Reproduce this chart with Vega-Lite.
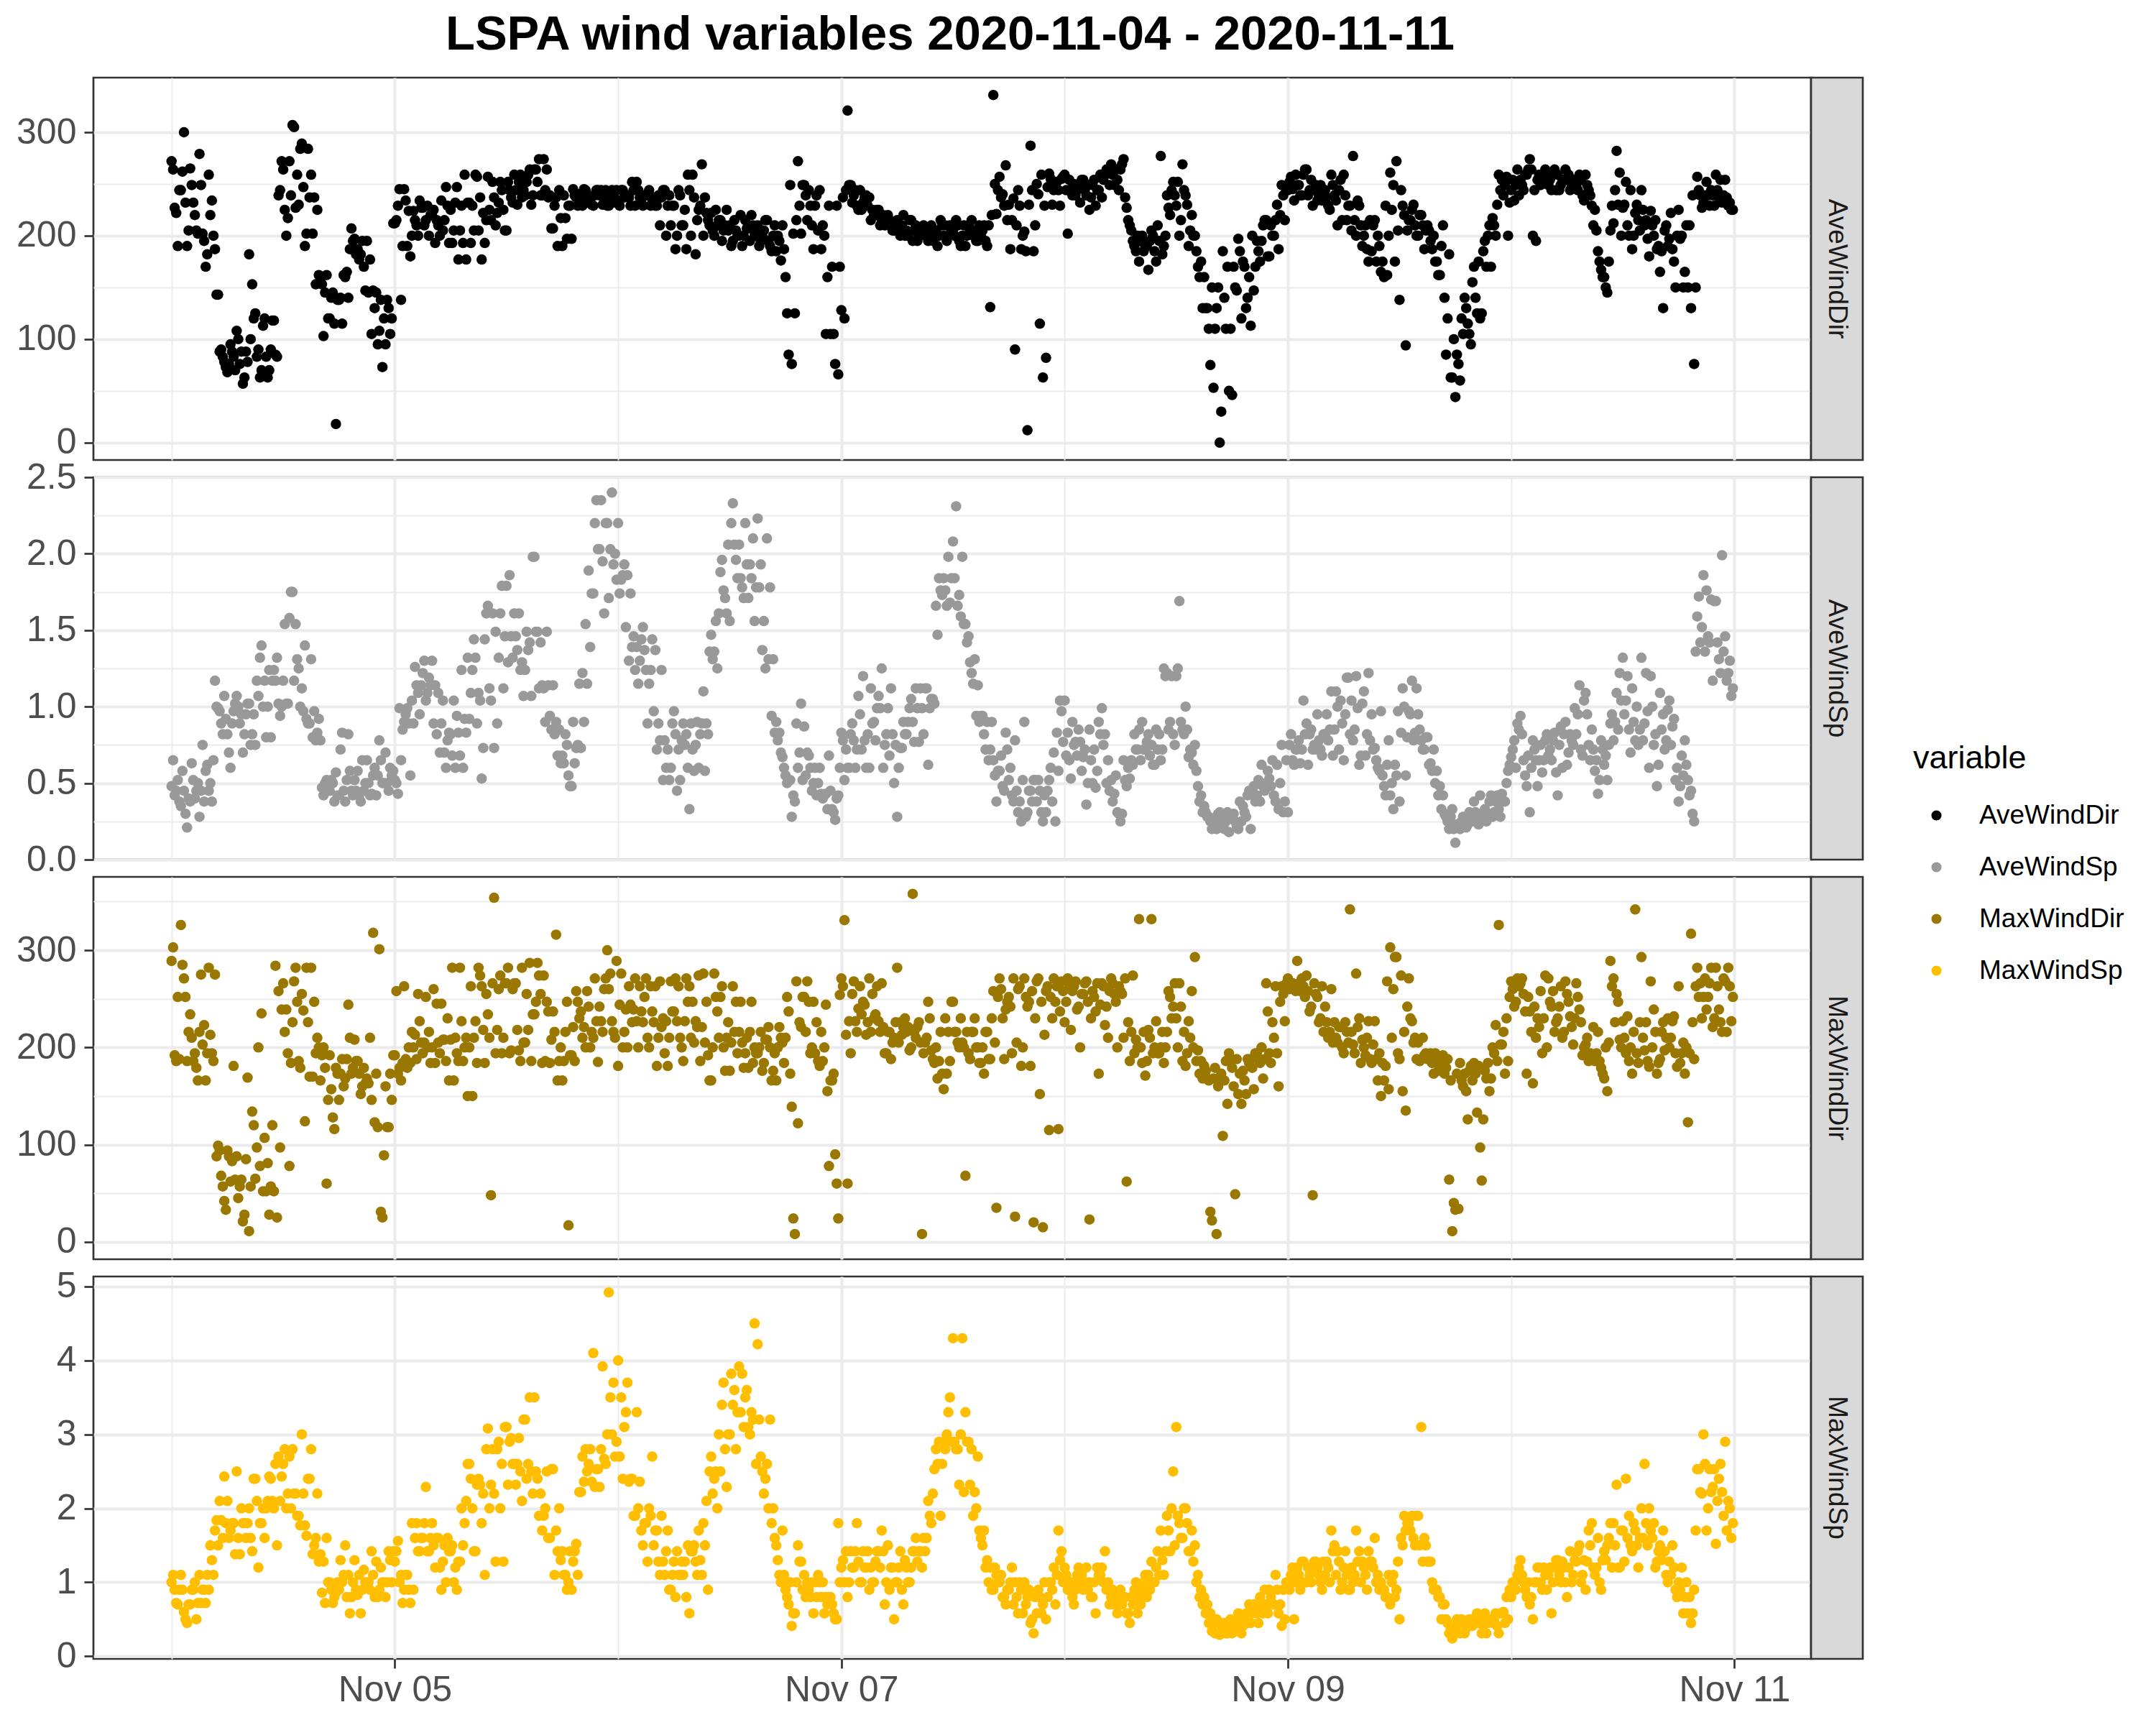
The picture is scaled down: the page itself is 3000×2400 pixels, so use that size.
{
  "$schema": "https://vega.github.io/schema/vega-lite/v6.json",
  "background": "white",
  "padding": {"left": 21, "top": 15, "right": 0, "bottom": 0},
  "title": {"text": "LSPA wind variables 2020-11-04 - 2020-11-11", "font": "Liberation Sans", "fontSize": 67, "fontWeight": "bold", "color": "black", "anchor": "start", "frame": "group", "dx": 490, "offset": 23.5},
  "data": {"values": [
{"t":"2020-11-04T00:00","awd":272,"aws":0.48,"mwd":289,"mws":1.0},
{"t":"2020-11-04T00:20","awd":227,"aws":0.42,"mwd":192,"mws":0.9},
{"t":"2020-11-04T00:40","awd":190,"aws":0.52,"mwd":252,"mws":0.7},
{"t":"2020-11-04T01:00","awd":244,"aws":0.35,"mwd":326,"mws":1.1},
{"t":"2020-11-04T01:20","awd":300,"aws":0.45,"mwd":271,"mws":0.6},
{"t":"2020-11-04T01:40","awd":190,"aws":0.21,"mwd":186,"mws":0.45},
{"t":"2020-11-04T02:00","awd":265,"aws":0.38,"mwd":234,"mws":0.7},
{"t":"2020-11-04T02:20","awd":232,"aws":0.52,"mwd":186,"mws":0.9},
{"t":"2020-11-04T02:40","awd":205,"aws":0.45,"mwd":179,"mws":0.5},
{"t":"2020-11-04T03:00","awd":279,"aws":0.28,"mwd":216,"mws":1.1},
{"t":"2020-11-04T03:20","awd":202,"aws":0.75,"mwd":203,"mws":0.9},
{"t":"2020-11-04T03:40","awd":170,"aws":0.58,"mwd":166,"mws":0.72},
{"t":"2020-11-04T04:00","awd":259,"aws":0.45,"mwd":282,"mws":0.9},
{"t":"2020-11-04T04:20","awd":234,"aws":0.38,"mwd":194,"mws":1.3},
{"t":"2020-11-04T04:40","awd":187,"aws":1.17,"mwd":275,"mws":1.7},
{"t":"2020-11-04T05:00","awd":143,"aws":0.99,"mwd":99,"mws":1.5},
{"t":"2020-11-04T05:20","awd":90,"aws":0.89,"mwd":68,"mws":1.84},
{"t":"2020-11-04T05:40","awd":78,"aws":1.07,"mwd":42,"mws":2.43},
{"t":"2020-11-04T06:00","awd":68,"aws":0.82,"mwd":94,"mws":2.1},
{"t":"2020-11-04T06:20","awd":95,"aws":0.6,"mwd":62,"mws":1.7},
{"t":"2020-11-04T06:40","awd":83,"aws":0.97,"mwd":181,"mws":1.8},
{"t":"2020-11-04T07:00","awd":108,"aws":1.07,"mwd":88,"mws":2.5},
{"t":"2020-11-04T07:20","awd":76,"aws":0.89,"mwd":57,"mws":1.38},
{"t":"2020-11-04T07:40","awd":57,"aws":0.7,"mwd":21,"mws":1.8},
{"t":"2020-11-04T08:00","awd":88,"aws":0.95,"mwd":85,"mws":1.6},
{"t":"2020-11-04T08:20","awd":182,"aws":1.02,"mwd":11,"mws":2.0},
{"t":"2020-11-04T08:40","awd":153,"aws":0.82,"mwd":134,"mws":1.42},
{"t":"2020-11-04T09:00","awd":125,"aws":0.75,"mwd":65,"mws":2.4},
{"t":"2020-11-04T09:20","awd":90,"aws":1.07,"mwd":200,"mws":1.2},
{"t":"2020-11-04T09:40","awd":70,"aws":1.4,"mwd":235,"mws":1.8},
{"t":"2020-11-04T10:00","awd":120,"aws":1.17,"mwd":107,"mws":1.6},
{"t":"2020-11-04T10:20","awd":63,"aws":1.0,"mwd":81,"mws":2.1},
{"t":"2020-11-04T10:40","awd":90,"aws":0.8,"mwd":57,"mws":2.4},
{"t":"2020-11-04T11:00","awd":118,"aws":1.24,"mwd":52,"mws":2.0},
{"t":"2020-11-04T11:20","awd":83,"aws":1.32,"mwd":25,"mws":1.5},
{"t":"2020-11-04T11:40","awd":244,"aws":0.94,"mwd":97,"mws":2.1},
{"t":"2020-11-04T12:00","awd":264,"aws":1.17,"mwd":266,"mws":2.6},
{"t":"2020-11-04T12:20","awd":200,"aws":1.02,"mwd":239,"mws":2.0},
{"t":"2020-11-04T12:40","awd":272,"aws":1.58,"mwd":78,"mws":2.7},
{"t":"2020-11-04T13:00","awd":307,"aws":1.75,"mwd":226,"mws":2.8},
{"t":"2020-11-04T13:20","awd":227,"aws":1.54,"mwd":282,"mws":2.2},
{"t":"2020-11-04T13:40","awd":230,"aws":1.25,"mwd":186,"mws":1.9},
{"t":"2020-11-04T14:00","awd":289,"aws":1.12,"mwd":255,"mws":3.0},
{"t":"2020-11-04T14:20","awd":190,"aws":1.4,"mwd":124,"mws":1.77},
{"t":"2020-11-04T14:40","awd":284,"aws":0.89,"mwd":226,"mws":2.4},
{"t":"2020-11-04T15:00","awd":259,"aws":1.31,"mwd":282,"mws":2.8},
{"t":"2020-11-04T15:20","awd":237,"aws":0.97,"mwd":247,"mws":1.5},
{"t":"2020-11-04T15:40","awd":225,"aws":0.83,"mwd":210,"mws":2.2},
{"t":"2020-11-04T16:00","awd":157,"aws":0.78,"mwd":166,"mws":1.38},
{"t":"2020-11-04T16:20","awd":103,"aws":0.42,"mwd":200,"mws":1.28},
{"t":"2020-11-04T16:40","awd":162,"aws":0.52,"mwd":60,"mws":1.6},
{"t":"2020-11-04T17:00","awd":120,"aws":0.45,"mwd":192,"mws":1.0},
{"t":"2020-11-04T17:20","awd":145,"aws":0.5,"mwd":128,"mws":0.72},
{"t":"2020-11-04T17:40","awd":18,"aws":0.57,"mwd":179,"mws":0.86},
{"t":"2020-11-04T18:00","awd":138,"aws":0.42,"mwd":146,"mws":0.9},
{"t":"2020-11-04T18:20","awd":115,"aws":0.83,"mwd":188,"mws":1.0},
{"t":"2020-11-04T18:40","awd":160,"aws":0.38,"mwd":168,"mws":1.5},
{"t":"2020-11-04T19:00","awd":140,"aws":0.82,"mwd":244,"mws":1.1},
{"t":"2020-11-04T19:20","awd":207,"aws":0.45,"mwd":173,"mws":0.8},
{"t":"2020-11-04T19:40","awd":197,"aws":0.52,"mwd":208,"mws":1.3},
{"t":"2020-11-04T20:00","awd":187,"aws":0.58,"mwd":186,"mws":0.83},
{"t":"2020-11-04T20:20","awd":182,"aws":0.38,"mwd":152,"mws":0.58},
{"t":"2020-11-04T20:40","awd":170,"aws":0.45,"mwd":179,"mws":1.17},
{"t":"2020-11-04T21:00","awd":195,"aws":0.65,"mwd":168,"mws":1.0},
{"t":"2020-11-04T21:20","awd":177,"aws":0.42,"mwd":210,"mws":0.9},
{"t":"2020-11-04T21:40","awd":147,"aws":0.55,"mwd":318,"mws":1.1},
{"t":"2020-11-04T22:00","awd":145,"aws":0.42,"mwd":173,"mws":1.28},
{"t":"2020-11-04T22:20","awd":108,"aws":0.78,"mwd":301,"mws":0.9},
{"t":"2020-11-04T22:40","awd":73,"aws":0.5,"mwd":25,"mws":1.0},
{"t":"2020-11-04T23:00","awd":95,"aws":0.7,"mwd":160,"mws":0.8},
{"t":"2020-11-04T23:20","awd":130,"aws":0.45,"mwd":118,"mws":1.42},
{"t":"2020-11-04T23:40","awd":120,"aws":0.55,"mwd":146,"mws":1.0},
{"t":"2020-11-05T00:00","awd":212,"aws":0.52,"mwd":192,"mws":1.28},
{"t":"2020-11-05T00:20","awd":229,"aws":0.43,"mwd":173,"mws":1.56},
{"t":"2020-11-05T00:40","awd":138,"aws":0.65,"mwd":166,"mws":1.1},
{"t":"2020-11-05T01:00","awd":245,"aws":0.9,"mwd":263,"mws":0.9},
{"t":"2020-11-05T01:20","awd":190,"aws":0.99,"mwd":179,"mws":1.1},
{"t":"2020-11-05T01:40","awd":180,"aws":0.55,"mwd":184,"mws":0.72},
{"t":"2020-11-05T02:00","awd":224,"aws":0.89,"mwd":200,"mws":0.9},
{"t":"2020-11-05T02:20","awd":210,"aws":1.14,"mwd":188,"mws":1.8},
{"t":"2020-11-05T02:40","awd":234,"aws":0.95,"mwd":227,"mws":1.42},
{"t":"2020-11-05T03:00","awd":227,"aws":1.22,"mwd":194,"mws":1.6},
{"t":"2020-11-05T03:20","awd":215,"aws":1.04,"mwd":252,"mws":2.29},
{"t":"2020-11-05T03:40","awd":200,"aws":1.19,"mwd":216,"mws":1.42},
{"t":"2020-11-05T04:00","awd":220,"aws":1.3,"mwd":200,"mws":1.8},
{"t":"2020-11-05T04:20","awd":193,"aws":1.14,"mwd":184,"mws":1.2},
{"t":"2020-11-05T04:40","awd":210,"aws":1.09,"mwd":205,"mws":1.6},
{"t":"2020-11-05T05:00","awd":234,"aws":0.89,"mwd":245,"mws":0.9},
{"t":"2020-11-05T05:20","awd":215,"aws":0.7,"mwd":208,"mws":1.5},
{"t":"2020-11-05T05:40","awd":229,"aws":0.78,"mwd":230,"mws":1.6},
{"t":"2020-11-05T06:00","awd":225,"aws":0.82,"mwd":208,"mws":1.42},
{"t":"2020-11-05T06:20","awd":205,"aws":1.04,"mwd":166,"mws":1.0},
{"t":"2020-11-05T06:40","awd":247,"aws":0.94,"mwd":194,"mws":0.9},
{"t":"2020-11-05T07:00","awd":205,"aws":0.68,"mwd":282,"mws":1.28},
{"t":"2020-11-05T07:20","awd":193,"aws":0.6,"mwd":186,"mws":1.5},
{"t":"2020-11-05T07:40","awd":177,"aws":0.83,"mwd":210,"mws":2.1},
{"t":"2020-11-05T08:00","awd":232,"aws":0.92,"mwd":200,"mws":2.6},
{"t":"2020-11-05T08:20","awd":229,"aws":1.24,"mwd":150,"mws":2.0},
{"t":"2020-11-05T08:40","awd":259,"aws":1.32,"mwd":227,"mws":1.42},
{"t":"2020-11-05T09:00","awd":205,"aws":1.09,"mwd":282,"mws":2.4},
{"t":"2020-11-05T09:20","awd":177,"aws":0.53,"mwd":263,"mws":1.8},
{"t":"2020-11-05T09:40","awd":193,"aws":1.44,"mwd":184,"mws":1.1},
{"t":"2020-11-05T10:00","awd":257,"aws":1.66,"mwd":234,"mws":3.08},
{"t":"2020-11-05T10:20","awd":215,"aws":1.04,"mwd":48,"mws":2.32},
{"t":"2020-11-05T10:40","awd":237,"aws":0.73,"mwd":354,"mws":2.2},
{"t":"2020-11-05T11:00","awd":222,"aws":0.89,"mwd":218,"mws":2.8},
{"t":"2020-11-05T11:20","awd":252,"aws":1.61,"mwd":274,"mws":2.0},
{"t":"2020-11-05T11:40","awd":225,"aws":1.12,"mwd":210,"mws":1.28},
{"t":"2020-11-05T12:00","awd":205,"aws":1.79,"mwd":266,"mws":3.1},
{"t":"2020-11-05T12:20","awd":244,"aws":1.86,"mwd":194,"mws":2.9},
{"t":"2020-11-05T12:40","awd":232,"aws":1.32,"mwd":260,"mws":2.6},
{"t":"2020-11-05T13:00","awd":244,"aws":1.46,"mwd":266,"mws":2.32},
{"t":"2020-11-05T13:20","awd":252,"aws":1.61,"mwd":197,"mws":2.95},
{"t":"2020-11-05T13:40","awd":237,"aws":1.29,"mwd":282,"mws":2.1},
{"t":"2020-11-05T14:00","awd":239,"aws":1.24,"mwd":205,"mws":3.2},
{"t":"2020-11-05T14:20","awd":259,"aws":1.37,"mwd":218,"mws":2.6},
{"t":"2020-11-05T14:40","awd":230,"aws":1.07,"mwd":186,"mws":2.5},
{"t":"2020-11-05T15:00","awd":264,"aws":1.98,"mwd":234,"mws":3.5},
{"t":"2020-11-05T15:20","awd":252,"aws":1.49,"mwd":287,"mws":2.4},
{"t":"2020-11-05T15:40","awd":239,"aws":1.42,"mwd":255,"mws":2.2},
{"t":"2020-11-05T16:00","awd":274,"aws":1.12,"mwd":274,"mws":1.9},
{"t":"2020-11-05T16:20","awd":264,"aws":1.49,"mwd":247,"mws":2.5},
{"t":"2020-11-05T16:40","awd":239,"aws":0.94,"mwd":184,"mws":1.6},
{"t":"2020-11-05T17:00","awd":207,"aws":1.14,"mwd":237,"mws":2.53},
{"t":"2020-11-05T17:20","awd":237,"aws":0.9,"mwd":316,"mws":1.7},
{"t":"2020-11-05T17:40","awd":244,"aws":0.85,"mwd":186,"mws":2.0},
{"t":"2020-11-05T18:00","awd":190,"aws":0.68,"mwd":166,"mws":1.42},
{"t":"2020-11-05T18:20","awd":217,"aws":0.82,"mwd":216,"mws":1.1},
{"t":"2020-11-05T18:40","awd":229,"aws":0.55,"mwd":17,"mws":1.0},
{"t":"2020-11-05T19:00","awd":197,"aws":0.48,"mwd":192,"mws":0.9},
{"t":"2020-11-05T19:20","awd":239,"aws":0.63,"mwd":186,"mws":1.42},
{"t":"2020-11-05T19:40","awd":229,"aws":0.75,"mwd":247,"mws":1.1},
{"t":"2020-11-05T20:00","awd":237,"aws":0.73,"mwd":237,"mws":2.22},
{"t":"2020-11-05T20:20","awd":245,"aws":0.9,"mwd":221,"mws":2.36},
{"t":"2020-11-05T20:40","awd":240,"aws":1.15,"mwd":258,"mws":2.5},
{"t":"2020-11-05T21:00","awd":232,"aws":1.39,"mwd":200,"mws":2.8},
{"t":"2020-11-05T21:20","awd":229,"aws":1.74,"mwd":210,"mws":4.1},
{"t":"2020-11-05T21:40","awd":244,"aws":2.35,"mwd":227,"mws":2.53},
{"t":"2020-11-05T22:00","awd":239,"aws":2.03,"mwd":242,"mws":2.29},
{"t":"2020-11-05T22:20","awd":230,"aws":1.95,"mwd":216,"mws":3.92},
{"t":"2020-11-05T22:40","awd":244,"aws":2.2,"mwd":271,"mws":2.6},
{"t":"2020-11-05T23:00","awd":229,"aws":1.71,"mwd":260,"mws":4.92},
{"t":"2020-11-05T23:20","awd":244,"aws":2.4,"mwd":227,"mws":3.0},
{"t":"2020-11-05T23:40","awd":236,"aws":2.0,"mwd":210,"mws":2.7},
{"t":"2020-11-06T00:00","awd":232,"aws":2.2,"mwd":181,"mws":4.0},
{"t":"2020-11-06T00:20","awd":244,"aws":1.83,"mwd":276,"mws":3.5},
{"t":"2020-11-06T00:40","awd":237,"aws":1.93,"mwd":216,"mws":3.1},
{"t":"2020-11-06T01:00","awd":239,"aws":1.86,"mwd":200,"mws":3.7},
{"t":"2020-11-06T01:20","awd":229,"aws":1.74,"mwd":244,"mws":2.4},
{"t":"2020-11-06T01:40","awd":244,"aws":1.46,"mwd":239,"mws":1.9},
{"t":"2020-11-06T02:00","awd":252,"aws":1.39,"mwd":227,"mws":3.3},
{"t":"2020-11-06T02:20","awd":237,"aws":1.3,"mwd":263,"mws":2.36},
{"t":"2020-11-06T02:40","awd":229,"aws":1.52,"mwd":226,"mws":1.5},
{"t":"2020-11-06T03:00","awd":239,"aws":1.24,"mwd":271,"mws":1.8},
{"t":"2020-11-06T03:20","awd":244,"aws":1.15,"mwd":200,"mws":2.0},
{"t":"2020-11-06T03:40","awd":232,"aws":1.44,"mwd":237,"mws":2.7},
{"t":"2020-11-06T04:00","awd":229,"aws":1.37,"mwd":263,"mws":1.7},
{"t":"2020-11-06T04:20","awd":239,"aws":0.89,"mwd":210,"mws":1.28},
{"t":"2020-11-06T04:40","awd":237,"aws":1.24,"mwd":221,"mws":1.9},
{"t":"2020-11-06T05:00","awd":244,"aws":0.78,"mwd":194,"mws":1.1},
{"t":"2020-11-06T05:20","awd":229,"aws":0.72,"mwd":181,"mws":1.7},
{"t":"2020-11-06T05:40","awd":210,"aws":0.6,"mwd":268,"mws":0.9},
{"t":"2020-11-06T06:00","awd":229,"aws":0.97,"mwd":237,"mws":1.28},
{"t":"2020-11-06T06:20","awd":200,"aws":0.45,"mwd":227,"mws":1.42},
{"t":"2020-11-06T06:40","awd":239,"aws":0.52,"mwd":210,"mws":1.1},
{"t":"2020-11-06T07:00","awd":210,"aws":0.89,"mwd":186,"mws":1.1},
{"t":"2020-11-06T07:20","awd":187,"aws":0.82,"mwd":271,"mws":0.8},
{"t":"2020-11-06T07:40","awd":244,"aws":0.33,"mwd":263,"mws":0.58},
{"t":"2020-11-06T08:00","awd":259,"aws":0.72,"mwd":247,"mws":1.42},
{"t":"2020-11-06T08:20","awd":182,"aws":0.75,"mwd":227,"mws":1.28},
{"t":"2020-11-06T08:40","awd":225,"aws":0.6,"mwd":274,"mws":1.7},
{"t":"2020-11-06T09:00","awd":269,"aws":0.89,"mwd":221,"mws":1.1},
{"t":"2020-11-06T09:20","awd":237,"aws":0.58,"mwd":205,"mws":1.5},
{"t":"2020-11-06T09:40","awd":215,"aws":0.82,"mwd":192,"mws":0.9},
{"t":"2020-11-06T10:00","awd":222,"aws":1.47,"mwd":166,"mws":2.7},
{"t":"2020-11-06T10:20","awd":200,"aws":1.36,"mwd":276,"mws":2.4},
{"t":"2020-11-06T10:40","awd":210,"aws":1.25,"mwd":237,"mws":2.0},
{"t":"2020-11-06T11:00","awd":215,"aws":1.88,"mwd":252,"mws":2.5},
{"t":"2020-11-06T11:20","awd":205,"aws":1.76,"mwd":200,"mws":3.7},
{"t":"2020-11-06T11:40","awd":225,"aws":1.61,"mwd":210,"mws":2.29},
{"t":"2020-11-06T12:00","awd":210,"aws":1.56,"mwd":176,"mws":3.0},
{"t":"2020-11-06T12:20","awd":195,"aws":2.33,"mwd":263,"mws":3.4},
{"t":"2020-11-06T12:40","awd":205,"aws":1.96,"mwd":247,"mws":2.8},
{"t":"2020-11-06T13:00","awd":200,"aws":2.06,"mwd":216,"mws":3.92},
{"t":"2020-11-06T13:20","awd":190,"aws":1.78,"mwd":205,"mws":3.82},
{"t":"2020-11-06T13:40","awd":215,"aws":2.2,"mwd":194,"mws":3.5},
{"t":"2020-11-06T14:00","awd":207,"aws":1.71,"mwd":179,"mws":3.1},
{"t":"2020-11-06T14:20","awd":220,"aws":1.84,"mwd":247,"mws":3.3},
{"t":"2020-11-06T14:40","awd":200,"aws":1.56,"mwd":200,"mws":4.5},
{"t":"2020-11-06T15:00","awd":210,"aws":2.23,"mwd":194,"mws":4.22},
{"t":"2020-11-06T15:20","awd":195,"aws":1.93,"mwd":216,"mws":2.7},
{"t":"2020-11-06T15:40","awd":205,"aws":1.56,"mwd":184,"mws":2.2},
{"t":"2020-11-06T16:00","awd":215,"aws":2.1,"mwd":208,"mws":2.6},
{"t":"2020-11-06T16:20","awd":190,"aws":1.78,"mwd":200,"mws":3.2},
{"t":"2020-11-06T16:40","awd":200,"aws":1.31,"mwd":176,"mws":2.0},
{"t":"2020-11-06T17:00","awd":185,"aws":0.9,"mwd":166,"mws":1.5},
{"t":"2020-11-06T17:20","awd":195,"aws":0.83,"mwd":221,"mws":1.1},
{"t":"2020-11-06T17:40","awd":210,"aws":0.67,"mwd":205,"mws":1.7},
{"t":"2020-11-06T18:00","awd":160,"aws":0.55,"mwd":210,"mws":0.9},
{"t":"2020-11-06T18:20","awd":85,"aws":0.52,"mwd":237,"mws":0.7},
{"t":"2020-11-06T18:40","awd":76,"aws":0.28,"mwd":139,"mws":0.41},
{"t":"2020-11-06T19:00","awd":125,"aws":0.38,"mwd":8,"mws":0.58},
{"t":"2020-11-06T19:20","awd":272,"aws":0.6,"mwd":122,"mws":1.5},
{"t":"2020-11-06T19:40","awd":202,"aws":1.02,"mwd":221,"mws":1.28},
{"t":"2020-11-06T20:00","awd":249,"aws":0.87,"mwd":252,"mws":1.1},
{"t":"2020-11-06T20:20","awd":215,"aws":0.7,"mwd":268,"mws":1.0},
{"t":"2020-11-06T20:40","awd":229,"aws":0.6,"mwd":194,"mws":0.8},
{"t":"2020-11-06T21:00","awd":187,"aws":0.5,"mwd":247,"mws":0.58},
{"t":"2020-11-06T21:20","awd":239,"aws":0.42,"mwd":226,"mws":0.8},
{"t":"2020-11-06T21:40","awd":244,"aws":0.6,"mwd":181,"mws":1.0},
{"t":"2020-11-06T22:00","awd":210,"aws":0.4,"mwd":186,"mws":1.0},
{"t":"2020-11-06T22:20","awd":105,"aws":0.43,"mwd":244,"mws":0.8},
{"t":"2020-11-06T22:40","awd":229,"aws":0.68,"mwd":78,"mws":0.8},
{"t":"2020-11-06T23:00","awd":170,"aws":0.33,"mwd":166,"mws":0.7},
{"t":"2020-11-06T23:20","awd":76,"aws":0.26,"mwd":90,"mws":0.5},
{"t":"2020-11-06T23:40","awd":66,"aws":0.42,"mwd":24,"mws":1.8},
{"t":"2020-11-07T00:00","awd":128,"aws":0.83,"mwd":271,"mws":1.2},
{"t":"2020-11-07T00:20","awd":120,"aws":0.52,"mwd":331,"mws":1.0},
{"t":"2020-11-07T00:40","awd":321,"aws":0.6,"mwd":60,"mws":0.8},
{"t":"2020-11-07T01:00","awd":249,"aws":0.82,"mwd":194,"mws":1.42},
{"t":"2020-11-07T01:20","awd":239,"aws":0.78,"mwd":268,"mws":1.2},
{"t":"2020-11-07T01:40","awd":229,"aws":0.72,"mwd":216,"mws":1.8},
{"t":"2020-11-07T02:00","awd":244,"aws":0.95,"mwd":263,"mws":1.0},
{"t":"2020-11-07T02:20","awd":232,"aws":1.2,"mwd":247,"mws":1.42},
{"t":"2020-11-07T02:40","awd":239,"aws":0.6,"mwd":213,"mws":1.2},
{"t":"2020-11-07T03:00","awd":237,"aws":0.6,"mwd":271,"mws":0.9},
{"t":"2020-11-07T03:20","awd":225,"aws":0.89,"mwd":255,"mws":1.0},
{"t":"2020-11-07T03:40","awd":220,"aws":0.78,"mwd":234,"mws":1.28},
{"t":"2020-11-07T04:00","awd":225,"aws":1.07,"mwd":227,"mws":1.42},
{"t":"2020-11-07T04:20","awd":215,"aws":1.25,"mwd":266,"mws":1.7},
{"t":"2020-11-07T04:40","awd":210,"aws":0.75,"mwd":194,"mws":0.7},
{"t":"2020-11-07T05:00","awd":220,"aws":0.99,"mwd":216,"mws":1.5},
{"t":"2020-11-07T05:20","awd":210,"aws":1.12,"mwd":188,"mws":1.2},
{"t":"2020-11-07T05:40","awd":205,"aws":0.5,"mwd":210,"mws":0.5},
{"t":"2020-11-07T06:00","awd":215,"aws":0.28,"mwd":282,"mws":1.0},
{"t":"2020-11-07T06:20","awd":200,"aws":0.73,"mwd":226,"mws":1.42},
{"t":"2020-11-07T06:40","awd":220,"aws":0.9,"mwd":221,"mws":0.7},
{"t":"2020-11-07T07:00","awd":205,"aws":0.82,"mwd":216,"mws":1.2},
{"t":"2020-11-07T07:20","awd":215,"aws":0.99,"mwd":197,"mws":1.0},
{"t":"2020-11-07T07:40","awd":195,"aws":0.9,"mwd":358,"mws":1.42},
{"t":"2020-11-07T08:00","awd":210,"aws":1.12,"mwd":210,"mws":1.6},
{"t":"2020-11-07T08:20","awd":200,"aws":0.77,"mwd":226,"mws":1.42},
{"t":"2020-11-07T08:40","awd":205,"aws":0.99,"mwd":8,"mws":1.2},
{"t":"2020-11-07T09:00","awd":200,"aws":1.12,"mwd":205,"mws":1.42},
{"t":"2020-11-07T09:20","awd":195,"aws":0.62,"mwd":247,"mws":2.1},
{"t":"2020-11-07T09:40","awd":210,"aws":1.05,"mwd":197,"mws":1.8},
{"t":"2020-11-07T10:00","awd":205,"aws":1.02,"mwd":184,"mws":2.53},
{"t":"2020-11-07T10:20","awd":190,"aws":1.47,"mwd":168,"mws":2.6},
{"t":"2020-11-07T10:40","awd":215,"aws":1.76,"mwd":216,"mws":1.9},
{"t":"2020-11-07T11:00","awd":200,"aws":1.84,"mwd":157,"mws":2.9},
{"t":"2020-11-07T11:20","awd":195,"aws":1.66,"mwd":173,"mws":3.0},
{"t":"2020-11-07T11:40","awd":210,"aws":1.68,"mwd":186,"mws":3.5},
{"t":"2020-11-07T12:00","awd":205,"aws":2.08,"mwd":247,"mws":4.3},
{"t":"2020-11-07T12:20","awd":215,"aws":2.31,"mwd":216,"mws":2.8},
{"t":"2020-11-07T12:40","awd":195,"aws":1.73,"mwd":200,"mws":2.32},
{"t":"2020-11-07T13:00","awd":200,"aws":1.98,"mwd":205,"mws":4.3},
{"t":"2020-11-07T13:20","awd":190,"aws":1.54,"mwd":68,"mws":3.3},
{"t":"2020-11-07T13:40","awd":210,"aws":1.46,"mwd":194,"mws":2.9},
{"t":"2020-11-07T14:00","awd":215,"aws":1.22,"mwd":216,"mws":2.8},
{"t":"2020-11-07T14:20","awd":205,"aws":1.31,"mwd":230,"mws":2.22},
{"t":"2020-11-07T14:40","awd":195,"aws":1.14,"mwd":200,"mws":2.7},
{"t":"2020-11-07T15:00","awd":200,"aws":0.94,"mwd":184,"mws":1.6},
{"t":"2020-11-07T15:20","awd":210,"aws":0.82,"mwd":173,"mws":1.7},
{"t":"2020-11-07T15:40","awd":190,"aws":0.9,"mwd":216,"mws":1.3},
{"t":"2020-11-07T16:00","awd":131,"aws":0.72,"mwd":188,"mws":1.2},
{"t":"2020-11-07T16:20","awd":336,"aws":0.65,"mwd":258,"mws":0.9},
{"t":"2020-11-07T16:40","awd":221,"aws":0.38,"mwd":35,"mws":1.1},
{"t":"2020-11-07T17:00","awd":257,"aws":0.58,"mwd":271,"mws":1.0},
{"t":"2020-11-07T17:20","awd":240,"aws":0.48,"mwd":230,"mws":0.8},
{"t":"2020-11-07T17:40","awd":268,"aws":0.83,"mwd":239,"mws":0.7},
{"t":"2020-11-07T18:00","awd":230,"aws":0.52,"mwd":252,"mws":0.9},
{"t":"2020-11-07T18:20","awd":215,"aws":0.42,"mwd":194,"mws":1.2},
{"t":"2020-11-07T18:40","awd":90,"aws":0.78,"mwd":26,"mws":1.0},
{"t":"2020-11-07T19:00","awd":244,"aws":0.31,"mwd":260,"mws":0.58},
{"t":"2020-11-07T19:20","awd":187,"aws":0.25,"mwd":181,"mws":0.9},
{"t":"2020-11-07T19:40","awd":204,"aws":0.9,"mwd":271,"mws":1.0},
{"t":"2020-11-07T20:00","awd":12,"aws":0.31,"mwd":242,"mws":0.8},
{"t":"2020-11-07T20:20","awd":287,"aws":0.45,"mwd":181,"mws":0.45},
{"t":"2020-11-07T20:40","awd":185,"aws":0.52,"mwd":20,"mws":0.31},
{"t":"2020-11-07T21:00","awd":250,"aws":0.38,"mwd":268,"mws":0.58},
{"t":"2020-11-07T21:20","awd":115,"aws":0.45,"mwd":152,"mws":0.8},
{"t":"2020-11-07T21:40","awd":63,"aws":0.25,"mwd":15,"mws":0.7},
{"t":"2020-11-07T22:00","awd":82,"aws":0.31,"mwd":258,"mws":0.5},
{"t":"2020-11-07T22:20","awd":260,"aws":0.52,"mwd":115,"mws":1.0},
{"t":"2020-11-07T22:40","awd":230,"aws":0.38,"mwd":230,"mws":0.9},
{"t":"2020-11-07T23:00","awd":249,"aws":0.25,"mwd":247,"mws":0.7},
{"t":"2020-11-07T23:20","awd":244,"aws":0.58,"mwd":116,"mws":1.7},
{"t":"2020-11-07T23:40","awd":255,"aws":0.97,"mwd":268,"mws":1.42},
{"t":"2020-11-08T00:00","awd":259,"aws":1.04,"mwd":226,"mws":1.2},
{"t":"2020-11-08T00:20","awd":202,"aws":0.83,"mwd":271,"mws":0.9},
{"t":"2020-11-08T00:40","awd":245,"aws":0.53,"mwd":218,"mws":1.0},
{"t":"2020-11-08T01:00","awd":250,"aws":0.75,"mwd":263,"mws":0.7},
{"t":"2020-11-08T01:20","awd":244,"aws":0.68,"mwd":239,"mws":1.1},
{"t":"2020-11-08T01:40","awd":232,"aws":0.77,"mwd":200,"mws":1.0},
{"t":"2020-11-08T02:00","awd":254,"aws":0.67,"mwd":255,"mws":0.9},
{"t":"2020-11-08T02:20","awd":239,"aws":0.36,"mwd":268,"mws":1.2},
{"t":"2020-11-08T02:40","awd":225,"aws":0.85,"mwd":23,"mws":1.0},
{"t":"2020-11-08T03:00","awd":249,"aws":0.5,"mwd":258,"mws":0.8},
{"t":"2020-11-08T03:20","awd":229,"aws":0.47,"mwd":237,"mws":0.58},
{"t":"2020-11-08T03:40","awd":244,"aws":0.9,"mwd":173,"mws":1.1},
{"t":"2020-11-08T04:00","awd":237,"aws":0.99,"mwd":266,"mws":1.2},
{"t":"2020-11-08T04:20","awd":259,"aws":0.82,"mwd":223,"mws":1.42},
{"t":"2020-11-08T04:40","awd":264,"aws":0.65,"mwd":210,"mws":1.0},
{"t":"2020-11-08T05:00","awd":269,"aws":0.52,"mwd":271,"mws":0.8},
{"t":"2020-11-08T05:20","awd":249,"aws":0.43,"mwd":255,"mws":0.7},
{"t":"2020-11-08T05:40","awd":254,"aws":0.31,"mwd":200,"mws":0.58},
{"t":"2020-11-08T06:00","awd":264,"aws":0.25,"mwd":258,"mws":0.9},
{"t":"2020-11-08T06:20","awd":274,"aws":0.65,"mwd":210,"mws":0.8},
{"t":"2020-11-08T06:40","awd":227,"aws":0.48,"mwd":62,"mws":0.58},
{"t":"2020-11-08T07:00","awd":210,"aws":0.53,"mwd":186,"mws":0.45},
{"t":"2020-11-08T07:20","awd":195,"aws":0.62,"mwd":274,"mws":0.7},
{"t":"2020-11-08T07:40","awd":185,"aws":0.72,"mwd":208,"mws":1.0},
{"t":"2020-11-08T08:00","awd":175,"aws":0.85,"mwd":332,"mws":0.8},
{"t":"2020-11-08T08:20","awd":200,"aws":0.9,"mwd":184,"mws":0.9},
{"t":"2020-11-08T08:40","awd":190,"aws":0.72,"mwd":171,"mws":1.1},
{"t":"2020-11-08T09:00","awd":167,"aws":0.82,"mwd":218,"mws":1.1},
{"t":"2020-11-08T09:20","awd":205,"aws":0.75,"mwd":332,"mws":1.28},
{"t":"2020-11-08T09:40","awd":185,"aws":0.62,"mwd":200,"mws":1.0},
{"t":"2020-11-08T10:00","awd":210,"aws":0.72,"mwd":194,"mws":1.42},
{"t":"2020-11-08T10:20","awd":277,"aws":0.65,"mwd":200,"mws":1.7},
{"t":"2020-11-08T10:40","awd":190,"aws":1.25,"mwd":184,"mws":1.1},
{"t":"2020-11-08T11:00","awd":239,"aws":1.22,"mwd":216,"mws":1.9},
{"t":"2020-11-08T11:20","awd":220,"aws":0.9,"mwd":252,"mws":1.42},
{"t":"2020-11-08T11:40","awd":252,"aws":0.82,"mwd":242,"mws":2.5},
{"t":"2020-11-08T12:00","awd":229,"aws":1.2,"mwd":230,"mws":3.1},
{"t":"2020-11-08T12:20","awd":200,"aws":1.69,"mwd":266,"mws":1.8},
{"t":"2020-11-08T12:40","awd":269,"aws":0.85,"mwd":186,"mws":1.6},
{"t":"2020-11-08T13:00","awd":239,"aws":1.0,"mwd":181,"mws":2.0},
{"t":"2020-11-08T13:20","awd":190,"aws":0.67,"mwd":227,"mws":1.42},
{"t":"2020-11-08T13:40","awd":220,"aws":0.7,"mwd":258,"mws":1.7},
{"t":"2020-11-08T14:00","awd":200,"aws":0.75,"mwd":293,"mws":1.5},
{"t":"2020-11-08T14:20","awd":170,"aws":0.48,"mwd":197,"mws":1.1},
{"t":"2020-11-08T14:40","awd":175,"aws":0.42,"mwd":186,"mws":0.9},
{"t":"2020-11-08T15:00","awd":160,"aws":0.35,"mwd":181,"mws":0.8},
{"t":"2020-11-08T15:20","awd":130,"aws":0.28,"mwd":168,"mws":0.7},
{"t":"2020-11-08T15:40","awd":75,"aws":0.25,"mwd":31,"mws":0.58},
{"t":"2020-11-08T16:00","awd":53,"aws":0.25,"mwd":168,"mws":0.45},
{"t":"2020-11-08T16:20","awd":130,"aws":0.2,"mwd":8,"mws":0.5},
{"t":"2020-11-08T16:40","awd":0,"aws":0.31,"mwd":166,"mws":0.29},
{"t":"2020-11-08T17:00","awd":185,"aws":0.28,"mwd":109,"mws":0.34},
{"t":"2020-11-08T17:20","awd":110,"aws":0.25,"mwd":186,"mws":0.31},
{"t":"2020-11-08T17:40","awd":50,"aws":0.18,"mwd":194,"mws":0.41},
{"t":"2020-11-08T18:00","awd":46,"aws":0.28,"mwd":179,"mws":0.31},
{"t":"2020-11-08T18:20","awd":150,"aws":0.25,"mwd":49,"mws":0.41},
{"t":"2020-11-08T18:40","awd":197,"aws":0.2,"mwd":152,"mws":0.58},
{"t":"2020-11-08T19:00","awd":120,"aws":0.25,"mwd":142,"mws":0.31},
{"t":"2020-11-08T19:20","awd":170,"aws":0.31,"mwd":166,"mws":0.5},
{"t":"2020-11-08T19:40","awd":140,"aws":0.42,"mwd":188,"mws":0.45},
{"t":"2020-11-08T20:00","awd":113,"aws":0.2,"mwd":188,"mws":0.45},
{"t":"2020-11-08T20:20","awd":147,"aws":0.48,"mwd":157,"mws":0.7},
{"t":"2020-11-08T20:40","awd":195,"aws":0.42,"mwd":194,"mws":0.58},
{"t":"2020-11-08T21:00","awd":175,"aws":0.38,"mwd":184,"mws":0.8},
{"t":"2020-11-08T21:20","awd":210,"aws":0.48,"mwd":168,"mws":0.58},
{"t":"2020-11-08T21:40","awd":215,"aws":0.5,"mwd":266,"mws":0.7},
{"t":"2020-11-08T22:00","awd":180,"aws":0.53,"mwd":194,"mws":0.9},
{"t":"2020-11-08T22:20","awd":200,"aws":0.65,"mwd":226,"mws":0.7},
{"t":"2020-11-08T22:40","awd":215,"aws":0.38,"mwd":263,"mws":1.1},
{"t":"2020-11-08T23:00","awd":187,"aws":0.33,"mwd":160,"mws":0.58},
{"t":"2020-11-08T23:20","awd":249,"aws":0.75,"mwd":263,"mws":0.41},
{"t":"2020-11-08T23:40","awd":215,"aws":0.38,"mwd":227,"mws":0.5},
{"t":"2020-11-09T00:00","awd":244,"aws":0.31,"mwd":271,"mws":1.0},
{"t":"2020-11-09T00:20","awd":257,"aws":0.82,"mwd":266,"mws":1.1},
{"t":"2020-11-09T00:40","awd":234,"aws":0.62,"mwd":263,"mws":0.5},
{"t":"2020-11-09T01:00","awd":249,"aws":0.72,"mwd":289,"mws":1.2},
{"t":"2020-11-09T01:20","awd":239,"aws":0.63,"mwd":258,"mws":0.9},
{"t":"2020-11-09T01:40","awd":259,"aws":1.04,"mwd":263,"mws":1.28},
{"t":"2020-11-09T02:00","awd":264,"aws":0.89,"mwd":274,"mws":1.0},
{"t":"2020-11-09T02:20","awd":244,"aws":0.82,"mwd":237,"mws":1.1},
{"t":"2020-11-09T02:40","awd":229,"aws":0.72,"mwd":48,"mws":1.2},
{"t":"2020-11-09T03:00","awd":249,"aws":0.72,"mwd":255,"mws":1.28},
{"t":"2020-11-09T03:20","awd":239,"aws":0.78,"mwd":226,"mws":1.1},
{"t":"2020-11-09T03:40","awd":234,"aws":0.68,"mwd":263,"mws":0.9},
{"t":"2020-11-09T04:00","awd":244,"aws":0.82,"mwd":242,"mws":1.1},
{"t":"2020-11-09T04:20","awd":229,"aws":0.78,"mwd":210,"mws":1.2},
{"t":"2020-11-09T04:40","awd":259,"aws":1.1,"mwd":260,"mws":1.7},
{"t":"2020-11-09T05:00","awd":239,"aws":0.85,"mwd":226,"mws":1.5},
{"t":"2020-11-09T05:20","awd":210,"aws":1.0,"mwd":205,"mws":1.42},
{"t":"2020-11-09T05:40","awd":254,"aws":1.04,"mwd":221,"mws":0.9},
{"t":"2020-11-09T06:00","awd":259,"aws":0.65,"mwd":194,"mws":1.2},
{"t":"2020-11-09T06:20","awd":215,"aws":1.19,"mwd":216,"mws":1.1},
{"t":"2020-11-09T06:40","awd":229,"aws":0.82,"mwd":342,"mws":0.9},
{"t":"2020-11-09T07:00","awd":277,"aws":0.78,"mwd":203,"mws":1.0},
{"t":"2020-11-09T07:20","awd":200,"aws":1.2,"mwd":276,"mws":1.7},
{"t":"2020-11-09T07:40","awd":229,"aws":0.62,"mwd":230,"mws":1.42},
{"t":"2020-11-09T08:00","awd":190,"aws":1.02,"mwd":208,"mws":1.28},
{"t":"2020-11-09T08:20","awd":210,"aws":0.68,"mwd":192,"mws":1.1},
{"t":"2020-11-09T08:40","awd":175,"aws":1.22,"mwd":227,"mws":1.42},
{"t":"2020-11-09T09:00","awd":185,"aws":0.95,"mwd":184,"mws":1.28},
{"t":"2020-11-09T09:20","awd":215,"aws":0.73,"mwd":227,"mws":1.6},
{"t":"2020-11-09T09:40","awd":200,"aws":0.6,"mwd":166,"mws":1.1},
{"t":"2020-11-09T10:00","awd":165,"aws":0.97,"mwd":150,"mws":1.0},
{"t":"2020-11-09T10:20","awd":160,"aws":0.48,"mwd":166,"mws":0.9},
{"t":"2020-11-09T10:40","awd":162,"aws":0.62,"mwd":268,"mws":0.8},
{"t":"2020-11-09T11:00","awd":261,"aws":0.42,"mwd":303,"mws":0.7},
{"t":"2020-11-09T11:20","awd":249,"aws":0.33,"mwd":260,"mws":1.1},
{"t":"2020-11-09T11:40","awd":272,"aws":0.55,"mwd":293,"mws":0.9},
{"t":"2020-11-09T12:00","awd":138,"aws":0.38,"mwd":188,"mws":0.5},
{"t":"2020-11-09T12:20","awd":229,"aws":1.12,"mwd":155,"mws":1.5},
{"t":"2020-11-09T12:40","awd":94,"aws":0.55,"mwd":135,"mws":1.7},
{"t":"2020-11-09T13:00","awd":215,"aws":0.97,"mwd":271,"mws":1.8},
{"t":"2020-11-09T13:20","awd":225,"aws":1.17,"mwd":227,"mws":1.9},
{"t":"2020-11-09T13:40","awd":210,"aws":0.83,"mwd":210,"mws":1.5},
{"t":"2020-11-09T14:00","awd":200,"aws":0.95,"mwd":205,"mws":1.9},
{"t":"2020-11-09T14:20","awd":220,"aws":0.78,"mwd":188,"mws":3.1},
{"t":"2020-11-09T14:40","awd":187,"aws":0.72,"mwd":192,"mws":1.6},
{"t":"2020-11-09T15:00","awd":210,"aws":0.8,"mwd":188,"mws":1.28},
{"t":"2020-11-09T15:20","awd":195,"aws":0.63,"mwd":194,"mws":1.28},
{"t":"2020-11-09T15:40","awd":200,"aws":0.72,"mwd":173,"mws":0.9},
{"t":"2020-11-09T16:00","awd":175,"aws":0.58,"mwd":186,"mws":0.9},
{"t":"2020-11-09T16:20","awd":162,"aws":0.48,"mwd":181,"mws":0.8},
{"t":"2020-11-09T16:40","awd":210,"aws":0.42,"mwd":192,"mws":0.7},
{"t":"2020-11-09T17:00","awd":85,"aws":0.28,"mwd":179,"mws":0.5},
{"t":"2020-11-09T17:20","awd":182,"aws":0.2,"mwd":64,"mws":0.31},
{"t":"2020-11-09T17:40","awd":63,"aws":0.33,"mwd":11,"mws":0.24},
{"t":"2020-11-09T18:00","awd":44,"aws":0.11,"mwd":33,"mws":0.38},
{"t":"2020-11-09T18:20","awd":76,"aws":0.21,"mwd":34,"mws":0.45},
{"t":"2020-11-09T18:40","awd":120,"aws":0.25,"mwd":166,"mws":0.5},
{"t":"2020-11-09T19:00","awd":140,"aws":0.25,"mwd":173,"mws":0.31},
{"t":"2020-11-09T19:20","awd":115,"aws":0.23,"mwd":126,"mws":0.45},
{"t":"2020-11-09T19:40","awd":95,"aws":0.28,"mwd":181,"mws":0.5},
{"t":"2020-11-09T20:00","awd":170,"aws":0.38,"mwd":184,"mws":0.45},
{"t":"2020-11-09T20:20","awd":125,"aws":0.28,"mwd":133,"mws":0.58},
{"t":"2020-11-09T20:40","awd":120,"aws":0.42,"mwd":97,"mws":0.5},
{"t":"2020-11-09T21:00","awd":185,"aws":0.31,"mwd":126,"mws":0.41},
{"t":"2020-11-09T21:20","awd":170,"aws":0.25,"mwd":168,"mws":0.31},
{"t":"2020-11-09T21:40","awd":210,"aws":0.38,"mwd":155,"mws":0.5},
{"t":"2020-11-09T22:00","awd":217,"aws":0.28,"mwd":200,"mws":0.45},
{"t":"2020-11-09T22:20","awd":200,"aws":0.38,"mwd":223,"mws":0.58},
{"t":"2020-11-09T22:40","awd":259,"aws":0.33,"mwd":326,"mws":0.31},
{"t":"2020-11-09T23:00","awd":254,"aws":0.43,"mwd":203,"mws":0.58},
{"t":"2020-11-09T23:20","awd":249,"aws":0.38,"mwd":173,"mws":0.45},
{"t":"2020-11-09T23:40","awd":200,"aws":0.58,"mwd":186,"mws":0.5},
{"t":"2020-11-10T00:00","awd":244,"aws":0.67,"mwd":268,"mws":0.8},
{"t":"2020-11-10T00:20","awd":234,"aws":0.78,"mwd":242,"mws":1.0},
{"t":"2020-11-10T00:40","awd":264,"aws":0.89,"mwd":271,"mws":1.1},
{"t":"2020-11-10T01:00","awd":254,"aws":0.94,"mwd":266,"mws":1.3},
{"t":"2020-11-10T01:20","awd":244,"aws":0.65,"mwd":255,"mws":1.0},
{"t":"2020-11-10T01:40","awd":259,"aws":0.48,"mwd":173,"mws":0.8},
{"t":"2020-11-10T02:00","awd":274,"aws":0.31,"mwd":237,"mws":0.7},
{"t":"2020-11-10T02:20","awd":200,"aws":0.78,"mwd":163,"mws":0.5},
{"t":"2020-11-10T02:40","awd":195,"aws":0.65,"mwd":210,"mws":1.0},
{"t":"2020-11-10T03:00","awd":259,"aws":0.65,"mwd":221,"mws":1.2},
{"t":"2020-11-10T03:20","awd":254,"aws":0.57,"mwd":194,"mws":0.9},
{"t":"2020-11-10T03:40","awd":264,"aws":0.78,"mwd":274,"mws":1.1},
{"t":"2020-11-10T04:00","awd":249,"aws":0.68,"mwd":271,"mws":1.1},
{"t":"2020-11-10T04:20","awd":244,"aws":0.65,"mwd":242,"mws":0.58},
{"t":"2020-11-10T04:40","awd":264,"aws":0.83,"mwd":216,"mws":1.2},
{"t":"2020-11-10T05:00","awd":259,"aws":0.42,"mwd":230,"mws":1.3},
{"t":"2020-11-10T05:20","awd":249,"aws":0.87,"mwd":263,"mws":1.0},
{"t":"2020-11-10T05:40","awd":254,"aws":0.82,"mwd":216,"mws":1.2},
{"t":"2020-11-10T06:00","awd":254,"aws":0.62,"mwd":255,"mws":0.8},
{"t":"2020-11-10T06:20","awd":244,"aws":0.82,"mwd":232,"mws":1.42},
{"t":"2020-11-10T06:40","awd":249,"aws":0.75,"mwd":203,"mws":1.1},
{"t":"2020-11-10T07:00","awd":249,"aws":0.82,"mwd":266,"mws":1.28},
{"t":"2020-11-10T07:20","awd":259,"aws":1.14,"mwd":239,"mws":1.5},
{"t":"2020-11-10T07:40","awd":239,"aws":0.68,"mwd":192,"mws":1.1},
{"t":"2020-11-10T08:00","awd":259,"aws":1.09,"mwd":203,"mws":0.9},
{"t":"2020-11-10T08:20","awd":244,"aws":0.75,"mwd":186,"mws":1.7},
{"t":"2020-11-10T08:40","awd":229,"aws":0.85,"mwd":192,"mws":1.8},
{"t":"2020-11-10T09:00","awd":225,"aws":0.58,"mwd":186,"mws":1.1},
{"t":"2020-11-10T09:20","awd":185,"aws":0.43,"mwd":216,"mws":1.6},
{"t":"2020-11-10T09:40","awd":167,"aws":0.78,"mwd":179,"mws":0.9},
{"t":"2020-11-10T10:00","awd":160,"aws":0.62,"mwd":168,"mws":1.42},
{"t":"2020-11-10T10:20","awd":145,"aws":0.52,"mwd":155,"mws":1.5},
{"t":"2020-11-10T10:40","awd":205,"aws":0.89,"mwd":289,"mws":1.8},
{"t":"2020-11-10T11:00","awd":212,"aws":0.78,"mwd":271,"mws":1.8},
{"t":"2020-11-10T11:20","awd":282,"aws":1.09,"mwd":255,"mws":2.32},
{"t":"2020-11-10T11:40","awd":261,"aws":1.22,"mwd":208,"mws":1.2},
{"t":"2020-11-10T12:00","awd":227,"aws":1.32,"mwd":227,"mws":1.7},
{"t":"2020-11-10T12:20","awd":252,"aws":1.04,"mwd":194,"mws":2.4},
{"t":"2020-11-10T12:40","awd":200,"aws":0.85,"mwd":186,"mws":1.9},
{"t":"2020-11-10T13:00","awd":187,"aws":1.12,"mwd":173,"mws":1.42},
{"t":"2020-11-10T13:20","awd":222,"aws":0.78,"mwd":342,"mws":1.7},
{"t":"2020-11-10T13:40","awd":215,"aws":0.75,"mwd":184,"mws":1.2},
{"t":"2020-11-10T14:00","awd":244,"aws":1.32,"mwd":293,"mws":2.0},
{"t":"2020-11-10T14:20","awd":210,"aws":0.89,"mwd":197,"mws":2.6},
{"t":"2020-11-10T14:40","awd":197,"aws":0.97,"mwd":186,"mws":1.5},
{"t":"2020-11-10T15:00","awd":224,"aws":1.2,"mwd":268,"mws":1.7},
{"t":"2020-11-10T15:20","awd":200,"aws":0.75,"mwd":239,"mws":1.8},
{"t":"2020-11-10T15:40","awd":187,"aws":0.48,"mwd":173,"mws":1.28},
{"t":"2020-11-10T16:00","awd":165,"aws":1.09,"mwd":188,"mws":1.5},
{"t":"2020-11-10T16:20","awd":130,"aws":0.95,"mwd":226,"mws":1.7},
{"t":"2020-11-10T16:40","awd":210,"aws":0.78,"mwd":210,"mws":1.1},
{"t":"2020-11-10T17:00","awd":197,"aws":1.04,"mwd":200,"mws":1.28},
{"t":"2020-11-10T17:20","awd":187,"aws":0.87,"mwd":227,"mws":1.5},
{"t":"2020-11-10T17:40","awd":150,"aws":0.52,"mwd":194,"mws":0.9},
{"t":"2020-11-10T18:00","awd":225,"aws":0.38,"mwd":263,"mws":1.0},
{"t":"2020-11-10T18:20","awd":200,"aws":0.68,"mwd":194,"mws":1.2},
{"t":"2020-11-10T18:40","awd":165,"aws":0.78,"mwd":173,"mws":0.8},
{"t":"2020-11-10T19:00","awd":150,"aws":0.52,"mwd":123,"mws":0.58},
{"t":"2020-11-10T19:20","awd":130,"aws":0.45,"mwd":317,"mws":0.45},
{"t":"2020-11-10T19:40","awd":76,"aws":0.25,"mwd":188,"mws":0.9},
{"t":"2020-11-10T20:00","awd":257,"aws":1.59,"mwd":282,"mws":2.53},
{"t":"2020-11-10T20:20","awd":239,"aws":1.42,"mwd":266,"mws":2.22},
{"t":"2020-11-10T20:40","awd":232,"aws":1.86,"mwd":252,"mws":3.0},
{"t":"2020-11-10T21:00","awd":252,"aws":1.76,"mwd":239,"mws":1.7},
{"t":"2020-11-10T21:20","awd":229,"aws":1.42,"mwd":266,"mws":2.53},
{"t":"2020-11-10T21:40","awd":239,"aws":1.17,"mwd":221,"mws":2.29},
{"t":"2020-11-10T22:00","awd":259,"aws":1.69,"mwd":282,"mws":1.52},
{"t":"2020-11-10T22:20","awd":237,"aws":1.31,"mwd":239,"mws":2.4},
{"t":"2020-11-10T22:40","awd":232,"aws":1.99,"mwd":216,"mws":2.22},
{"t":"2020-11-10T23:00","awd":254,"aws":1.46,"mwd":268,"mws":2.9},
{"t":"2020-11-10T23:20","awd":229,"aws":1.22,"mwd":282,"mws":2.1},
{"t":"2020-11-10T23:40","awd":225,"aws":1.07,"mwd":227,"mws":1.6},
{"t":"2020-11-04T00:10","awd":264,"aws":0.65,"mwd":303,"mws":1.1},
{"t":"2020-11-04T00:30","awd":222,"aws":0.45,"mwd":186,"mws":0.72},
{"t":"2020-11-04T00:50","awd":244,"aws":0.38,"mwd":188,"mws":0.9},
{"t":"2020-11-04T01:10","awd":262,"aws":0.58,"mwd":285,"mws":0.9},
{"t":"2020-11-04T01:30","awd":232,"aws":0.3,"mwd":252,"mws":0.5},
{"t":"2020-11-04T01:50","awd":205,"aws":0.4,"mwd":216,"mws":0.7},
{"t":"2020-11-04T02:10","awd":249,"aws":0.63,"mwd":210,"mws":0.9},
{"t":"2020-11-04T02:30","awd":220,"aws":0.4,"mwd":194,"mws":1.0},
{"t":"2020-11-04T02:50","awd":202,"aws":0.5,"mwd":166,"mws":0.72},
{"t":"2020-11-04T03:10","awd":249,"aws":0.45,"mwd":275,"mws":0.72},
{"t":"2020-11-04T03:30","awd":195,"aws":0.38,"mwd":223,"mws":0.9},
{"t":"2020-11-04T03:50","awd":182,"aws":0.62,"mwd":194,"mws":1.1},
{"t":"2020-11-04T04:10","awd":220,"aws":0.5,"mwd":213,"mws":1.5},
{"t":"2020-11-04T04:30","awd":200,"aws":0.65,"mwd":186,"mws":1.1},
{"t":"2020-11-04T04:50","awd":143,"aws":1.0,"mwd":88,"mws":1.84},
{"t":"2020-11-04T05:10","awd":88,"aws":0.97,"mwd":94,"mws":2.1},
{"t":"2020-11-04T05:30","awd":83,"aws":0.82,"mwd":57,"mws":1.6},
{"t":"2020-11-04T05:50","awd":73,"aws":0.92,"mwd":33,"mws":1.8},
{"t":"2020-11-04T06:10","awd":76,"aws":0.7,"mwd":88,"mws":1.6},
{"t":"2020-11-04T06:30","awd":88,"aws":0.89,"mwd":83,"mws":1.8},
{"t":"2020-11-04T06:50","awd":70,"aws":1.02,"mwd":64,"mws":1.38},
{"t":"2020-11-04T07:10","awd":100,"aws":1.0,"mwd":45,"mws":1.6},
{"t":"2020-11-04T07:30","awd":88,"aws":0.95,"mwd":64,"mws":2.0},
{"t":"2020-11-04T07:50","awd":63,"aws":0.82,"mwd":28,"mws":1.8},
{"t":"2020-11-04T08:10","awd":78,"aws":1.02,"mwd":169,"mws":1.8},
{"t":"2020-11-04T08:30","awd":100,"aws":0.75,"mwd":57,"mws":1.6},
{"t":"2020-11-04T08:50","awd":120,"aws":0.95,"mwd":120,"mws":2.4},
{"t":"2020-11-04T09:10","awd":83,"aws":1.17,"mwd":97,"mws":2.1},
{"t":"2020-11-04T09:30","awd":63,"aws":1.32,"mwd":78,"mws":1.8},
{"t":"2020-11-04T09:50","awd":113,"aws":1.0,"mwd":52,"mws":2.0},
{"t":"2020-11-04T10:10","awd":83,"aws":0.8,"mwd":52,"mws":2.0},
{"t":"2020-11-04T10:30","awd":70,"aws":1.24,"mwd":28,"mws":2.43},
{"t":"2020-11-04T10:50","awd":118,"aws":1.17,"mwd":120,"mws":2.1},
{"t":"2020-11-04T11:10","awd":85,"aws":1.17,"mwd":284,"mws":2.6},
{"t":"2020-11-04T11:30","awd":239,"aws":1.02,"mwd":258,"mws":2.7},
{"t":"2020-11-04T11:50","awd":272,"aws":1.0,"mwd":239,"mws":2.43},
{"t":"2020-11-04T12:10","awd":225,"aws":1.54,"mwd":216,"mws":2.8},
{"t":"2020-11-04T12:30","awd":217,"aws":1.02,"mwd":194,"mws":2.2},
{"t":"2020-11-04T12:50","awd":239,"aws":1.75,"mwd":184,"mws":2.0},
{"t":"2020-11-04T13:10","awd":305,"aws":1.17,"mwd":268,"mws":2.2},
{"t":"2020-11-04T13:30","awd":259,"aws":1.31,"mwd":247,"mws":1.9},
{"t":"2020-11-04T13:50","awd":284,"aws":1.0,"mwd":179,"mws":1.77},
{"t":"2020-11-04T14:10","awd":247,"aws":0.97,"mwd":238,"mws":2.2},
{"t":"2020-11-04T14:30","awd":202,"aws":0.92,"mwd":282,"mws":1.63},
{"t":"2020-11-04T14:50","awd":237,"aws":0.89,"mwd":170,"mws":2.4},
{"t":"2020-11-04T15:10","awd":202,"aws":0.8,"mwd":170,"mws":1.38},
{"t":"2020-11-04T15:30","awd":153,"aws":0.78,"mwd":194,"mws":1.6},
{"t":"2020-11-04T15:50","awd":162,"aws":0.92,"mwd":200,"mws":1.28},
{"t":"2020-11-04T16:10","awd":153,"aws":0.47,"mwd":192,"mws":0.86},
{"t":"2020-11-04T16:30","awd":145,"aws":0.5,"mwd":179,"mws":0.72},
{"t":"2020-11-04T16:50","awd":120,"aws":0.45,"mwd":146,"mws":1.0},
{"t":"2020-11-04T17:10","awd":140,"aws":0.52,"mwd":157,"mws":0.9},
{"t":"2020-11-04T17:30","awd":115,"aws":0.38,"mwd":116,"mws":0.8},
{"t":"2020-11-04T17:50","awd":138,"aws":0.42,"mwd":173,"mws":1.0},
{"t":"2020-11-04T18:10","awd":140,"aws":0.72,"mwd":173,"mws":1.3},
{"t":"2020-11-04T18:30","awd":162,"aws":0.45,"mwd":160,"mws":1.1},
{"t":"2020-11-04T18:50","awd":165,"aws":0.52,"mwd":188,"mws":0.8},
{"t":"2020-11-04T19:10","awd":187,"aws":0.58,"mwd":210,"mws":0.58},
{"t":"2020-11-04T19:30","awd":195,"aws":0.42,"mwd":179,"mws":1.0},
{"t":"2020-11-04T19:50","awd":182,"aws":0.45,"mwd":186,"mws":0.9},
{"t":"2020-11-04T20:10","awd":177,"aws":0.42,"mwd":173,"mws":1.1},
{"t":"2020-11-04T20:30","awd":195,"aws":0.65,"mwd":160,"mws":0.9},
{"t":"2020-11-04T20:50","awd":147,"aws":0.5,"mwd":163,"mws":1.0},
{"t":"2020-11-04T21:10","awd":145,"aws":0.5,"mwd":163,"mws":1.0},
{"t":"2020-11-04T21:30","awd":105,"aws":0.43,"mwd":146,"mws":1.42},
{"t":"2020-11-04T21:50","awd":130,"aws":0.6,"mwd":123,"mws":0.8},
{"t":"2020-11-04T22:10","awd":95,"aws":0.55,"mwd":118,"mws":0.8},
{"t":"2020-11-04T22:30","awd":138,"aws":0.65,"mwd":31,"mws":1.2},
{"t":"2020-11-04T22:50","awd":120,"aws":0.5,"mwd":89,"mws":1.0},
{"t":"2020-11-04T23:10","awd":138,"aws":0.5,"mwd":118,"mws":1.0},
{"t":"2020-11-04T23:30","awd":105,"aws":0.6,"mwd":173,"mws":1.3},
{"t":"2020-11-04T23:50","awd":212,"aws":0.58,"mwd":192,"mws":1.42},
{"t":"2020-11-05T00:10","awd":215,"aws":0.5,"mwd":258,"mws":1.42},
{"t":"2020-11-05T00:30","awd":245,"aws":0.99,"mwd":179,"mws":1.0},
{"t":"2020-11-05T00:50","awd":190,"aws":0.85,"mwd":184,"mws":0.72},
{"t":"2020-11-05T01:10","awd":234,"aws":0.95,"mwd":188,"mws":1.1},
{"t":"2020-11-05T01:30","awd":224,"aws":0.89,"mwd":200,"mws":0.9},
{"t":"2020-11-05T01:50","awd":200,"aws":1.04,"mwd":216,"mws":1.8},
{"t":"2020-11-05T02:10","awd":215,"aws":1.26,"mwd":213,"mws":1.6},
{"t":"2020-11-05T02:30","awd":200,"aws":1.09,"mwd":255,"mws":1.42},
{"t":"2020-11-05T02:50","awd":227,"aws":1.14,"mwd":205,"mws":1.6},
{"t":"2020-11-05T03:10","awd":210,"aws":1.3,"mwd":205,"mws":1.8},
{"t":"2020-11-05T03:30","awd":229,"aws":1.09,"mwd":200,"mws":1.42},
{"t":"2020-11-05T03:50","awd":220,"aws":1.14,"mwd":184,"mws":1.6},
{"t":"2020-11-05T04:10","awd":225,"aws":0.89,"mwd":260,"mws":1.5},
{"t":"2020-11-05T04:30","awd":215,"aws":0.82,"mwd":245,"mws":1.6},
{"t":"2020-11-05T04:50","awd":200,"aws":0.7,"mwd":194,"mws":1.2},
{"t":"2020-11-05T05:10","awd":205,"aws":1.04,"mwd":208,"mws":1.28},
{"t":"2020-11-05T05:30","awd":247,"aws":0.6,"mwd":186,"mws":1.0},
{"t":"2020-11-05T05:50","awd":193,"aws":0.83,"mwd":166,"mws":1.42},
{"t":"2020-11-05T06:10","awd":193,"aws":0.68,"mwd":282,"mws":1.5},
{"t":"2020-11-05T06:30","awd":232,"aws":0.6,"mwd":210,"mws":1.2},
{"t":"2020-11-05T06:50","awd":177,"aws":0.83,"mwd":186,"mws":1.28},
{"t":"2020-11-05T07:10","awd":229,"aws":1.24,"mwd":227,"mws":2.0},
{"t":"2020-11-05T07:30","awd":259,"aws":0.92,"mwd":200,"mws":1.8},
{"t":"2020-11-05T07:50","awd":232,"aws":1.32,"mwd":150,"mws":2.6},
{"t":"2020-11-05T08:10","awd":193,"aws":1.09,"mwd":263,"mws":2.4},
{"t":"2020-11-05T08:30","awd":205,"aws":1.44,"mwd":210,"mws":1.42},
{"t":"2020-11-05T08:50","awd":257,"aws":0.89,"mwd":184,"mws":2.32},
{"t":"2020-11-05T09:10","awd":237,"aws":1.04,"mwd":274,"mws":2.32},
{"t":"2020-11-05T09:30","awd":222,"aws":0.73,"mwd":218,"mws":2.2},
{"t":"2020-11-05T09:50","awd":215,"aws":1.61,"mwd":255,"mws":2.8},
{"t":"2020-11-05T10:10","awd":225,"aws":1.12,"mwd":210,"mws":2.0},
{"t":"2020-11-05T10:30","awd":252,"aws":1.61,"mwd":266,"mws":2.8},
{"t":"2020-11-05T10:50","awd":210,"aws":1.49,"mwd":194,"mws":1.28},
{"t":"2020-11-05T11:10","awd":232,"aws":1.32,"mwd":260,"mws":2.9},
{"t":"2020-11-05T11:30","awd":244,"aws":1.79,"mwd":194,"mws":2.6},
{"t":"2020-11-05T11:50","awd":205,"aws":1.46,"mwd":266,"mws":3.1},
{"t":"2020-11-05T12:10","awd":252,"aws":1.29,"mwd":282,"mws":2.32},
{"t":"2020-11-05T12:30","awd":237,"aws":1.46,"mwd":197,"mws":2.95},
{"t":"2020-11-05T12:50","awd":259,"aws":1.61,"mwd":266,"mws":2.6},
{"t":"2020-11-05T13:10","awd":230,"aws":1.37,"mwd":218,"mws":2.6},
{"t":"2020-11-05T13:30","awd":259,"aws":1.24,"mwd":186,"mws":2.5},
{"t":"2020-11-05T13:50","awd":244,"aws":1.07,"mwd":205,"mws":3.2},
{"t":"2020-11-05T14:10","awd":252,"aws":1.49,"mwd":255,"mws":2.4},
{"t":"2020-11-05T14:30","awd":264,"aws":1.42,"mwd":287,"mws":3.5},
{"t":"2020-11-05T14:50","awd":239,"aws":1.98,"mwd":234,"mws":2.2},
{"t":"2020-11-05T15:10","awd":264,"aws":1.49,"mwd":247,"mws":2.5},
{"t":"2020-11-05T15:30","awd":274,"aws":1.12,"mwd":274,"mws":1.9},
{"t":"2020-11-05T15:50","awd":239,"aws":1.14,"mwd":184,"mws":1.7},
{"t":"2020-11-05T16:10","awd":244,"aws":0.9,"mwd":186,"mws":2.0},
{"t":"2020-11-05T16:30","awd":237,"aws":1.14,"mwd":237,"mws":1.6},
{"t":"2020-11-05T16:50","awd":207,"aws":0.85,"mwd":208,"mws":2.53},
{"t":"2020-11-05T17:10","awd":229,"aws":0.82,"mwd":216,"mws":1.1},
{"t":"2020-11-05T17:30","awd":190,"aws":0.68,"mwd":166,"mws":1.42},
{"t":"2020-11-05T17:50","awd":217,"aws":0.63,"mwd":200,"mws":1.3},
{"t":"2020-11-05T18:10","awd":239,"aws":0.63,"mwd":186,"mws":1.1},
{"t":"2020-11-05T18:30","awd":197,"aws":0.75,"mwd":247,"mws":0.9},
{"t":"2020-11-05T18:50","awd":229,"aws":0.48,"mwd":192,"mws":1.42},
{"t":"2020-11-05T19:10","awd":245,"aws":0.9,"mwd":221,"mws":1.28},
{"t":"2020-11-05T19:30","awd":237,"aws":0.73,"mwd":258,"mws":1.52},
{"t":"2020-11-05T19:50","awd":240,"aws":1.15,"mwd":230,"mws":2.22},
{"t":"2020-11-05T20:10","awd":229,"aws":1.22,"mwd":210,"mws":2.7},
{"t":"2020-11-05T20:30","awd":244,"aws":1.54,"mwd":200,"mws":2.8},
{"t":"2020-11-05T20:50","awd":232,"aws":1.89,"mwd":242,"mws":2.6},
{"t":"2020-11-05T21:10","awd":230,"aws":1.74,"mwd":216,"mws":2.36},
{"t":"2020-11-05T21:30","awd":239,"aws":2.2,"mwd":271,"mws":2.29},
{"t":"2020-11-05T21:50","awd":244,"aws":2.03,"mwd":185,"mws":2.53},
{"t":"2020-11-05T22:10","awd":244,"aws":2.35,"mwd":227,"mws":2.8},
{"t":"2020-11-05T22:30","awd":236,"aws":1.61,"mwd":260,"mws":2.67},
{"t":"2020-11-05T22:50","awd":229,"aws":2.2,"mwd":300,"mws":3.0},
{"t":"2020-11-05T23:10","awd":237,"aws":2.03,"mwd":276,"mws":3.5},
{"t":"2020-11-05T23:30","awd":232,"aws":1.93,"mwd":216,"mws":3.7},
{"t":"2020-11-05T23:50","awd":244,"aws":1.83,"mwd":289,"mws":2.9},
{"t":"2020-11-06T00:10","awd":229,"aws":1.74,"mwd":244,"mws":2.7},
{"t":"2020-11-06T00:30","awd":244,"aws":1.86,"mwd":200,"mws":2.4},
{"t":"2020-11-06T00:50","awd":239,"aws":1.52,"mwd":239,"mws":3.3},
{"t":"2020-11-06T01:10","awd":237,"aws":1.3,"mwd":263,"mws":2.36},
{"t":"2020-11-06T01:30","awd":252,"aws":1.39,"mwd":226,"mws":2.4},
{"t":"2020-11-06T01:50","awd":229,"aws":1.24,"mwd":271,"mws":1.9},
{"t":"2020-11-06T02:10","awd":244,"aws":1.15,"mwd":200,"mws":2.0},
{"t":"2020-11-06T02:30","awd":232,"aws":1.44,"mwd":237,"mws":1.7},
{"t":"2020-11-06T02:50","awd":239,"aws":1.37,"mwd":252,"mws":1.8},
{"t":"2020-11-06T03:10","awd":239,"aws":0.89,"mwd":210,"mws":1.28},
{"t":"2020-11-06T03:30","awd":229,"aws":1.24,"mwd":263,"mws":1.9},
{"t":"2020-11-06T03:50","awd":237,"aws":0.97,"mwd":226,"mws":1.5},
{"t":"2020-11-06T04:10","awd":229,"aws":0.72,"mwd":181,"mws":1.7},
{"t":"2020-11-06T04:30","awd":210,"aws":0.78,"mwd":268,"mws":1.1},
{"t":"2020-11-06T04:50","awd":244,"aws":0.52,"mwd":230,"mws":1.28},
{"t":"2020-11-06T05:10","awd":200,"aws":0.6,"mwd":227,"mws":1.42},
{"t":"2020-11-06T05:30","awd":239,"aws":0.52,"mwd":210,"mws":0.9},
{"t":"2020-11-06T05:50","awd":229,"aws":0.89,"mwd":237,"mws":1.1},
{"t":"2020-11-06T06:10","awd":187,"aws":0.82,"mwd":271,"mws":0.8},
{"t":"2020-11-06T06:30","awd":244,"aws":0.72,"mwd":263,"mws":1.1},
{"t":"2020-11-06T06:50","awd":210,"aws":0.78,"mwd":200,"mws":1.28},
{"t":"2020-11-06T07:10","awd":225,"aws":0.75,"mwd":227,"mws":1.28},
{"t":"2020-11-06T07:30","awd":259,"aws":0.6,"mwd":247,"mws":1.5},
{"t":"2020-11-06T07:50","awd":200,"aws":0.89,"mwd":210,"mws":1.42},
{"t":"2020-11-06T08:10","awd":237,"aws":0.58,"mwd":205,"mws":1.5},
{"t":"2020-11-06T08:30","awd":215,"aws":0.9,"mwd":221,"mws":1.1},
{"t":"2020-11-06T08:50","awd":229,"aws":0.82,"mwd":186,"mws":1.3},
{"t":"2020-11-06T09:10","awd":200,"aws":1.1,"mwd":276,"mws":1.8},
{"t":"2020-11-06T09:30","awd":222,"aws":0.89,"mwd":247,"mws":2.1},
{"t":"2020-11-06T09:50","awd":210,"aws":1.36,"mwd":166,"mws":2.5},
{"t":"2020-11-06T10:10","awd":205,"aws":1.31,"mwd":200,"mws":2.2},
{"t":"2020-11-06T10:30","awd":225,"aws":1.56,"mwd":252,"mws":2.5},
{"t":"2020-11-06T10:50","awd":215,"aws":1.61,"mwd":210,"mws":3.0},
{"t":"2020-11-06T11:10","awd":195,"aws":1.96,"mwd":263,"mws":3.4},
{"t":"2020-11-06T11:30","awd":210,"aws":1.71,"mwd":176,"mws":2.8},
{"t":"2020-11-06T11:50","awd":205,"aws":2.06,"mwd":226,"mws":3.0},
{"t":"2020-11-06T12:10","awd":190,"aws":2.2,"mwd":205,"mws":3.82},
{"t":"2020-11-06T12:30","awd":215,"aws":2.06,"mwd":216,"mws":3.6},
{"t":"2020-11-06T12:50","awd":200,"aws":1.84,"mwd":194,"mws":3.3},
{"t":"2020-11-06T13:10","awd":220,"aws":1.84,"mwd":247,"mws":3.3},
{"t":"2020-11-06T13:30","awd":200,"aws":1.71,"mwd":179,"mws":3.1},
{"t":"2020-11-06T13:50","awd":207,"aws":1.93,"mwd":210,"mws":3.6},
{"t":"2020-11-06T14:10","awd":195,"aws":1.93,"mwd":216,"mws":3.0},
{"t":"2020-11-06T14:30","awd":210,"aws":2.1,"mwd":184,"mws":3.2},
{"t":"2020-11-06T14:50","awd":205,"aws":1.78,"mwd":194,"mws":2.6},
{"t":"2020-11-06T15:10","awd":190,"aws":1.78,"mwd":200,"mws":3.2},
{"t":"2020-11-06T15:30","awd":200,"aws":1.37,"mwd":176,"mws":2.5},
{"t":"2020-11-06T15:50","awd":215,"aws":1.25,"mwd":208,"mws":2.4},
{"t":"2020-11-06T16:10","awd":195,"aws":1.31,"mwd":221,"mws":2.0},
{"t":"2020-11-06T16:30","awd":185,"aws":0.94,"mwd":166,"mws":1.8},
{"t":"2020-11-06T16:50","awd":210,"aws":0.83,"mwd":194,"mws":1.6},
{"t":"2020-11-06T17:10","awd":200,"aws":0.78,"mwd":200,"mws":1.3},
{"t":"2020-11-06T17:30","awd":176,"aws":0.7,"mwd":210,"mws":1.0},
{"t":"2020-11-06T17:50","awd":187,"aws":0.6,"mwd":184,"mws":1.1},
{"t":"2020-11-06T18:10","awd":125,"aws":0.5,"mwd":252,"mws":0.8},
{"t":"2020-11-06T18:30","awd":249,"aws":0.52,"mwd":173,"mws":1.0},
{"t":"2020-11-06T18:50","awd":202,"aws":0.42,"mwd":24,"mws":0.58},
{"t":"2020-11-06T19:10","awd":215,"aws":0.89,"mwd":268,"mws":1.0},
{"t":"2020-11-06T19:30","awd":229,"aws":0.7,"mwd":226,"mws":1.28},
{"t":"2020-11-06T19:50","awd":249,"aws":0.52,"mwd":252,"mws":0.9},
{"t":"2020-11-06T20:10","awd":239,"aws":0.55,"mwd":216,"mws":0.8},
{"t":"2020-11-06T20:30","awd":244,"aws":0.68,"mwd":247,"mws":0.9},
{"t":"2020-11-06T20:50","awd":210,"aws":0.45,"mwd":200,"mws":1.0},
{"t":"2020-11-06T21:10","awd":229,"aws":0.6,"mwd":194,"mws":1.0},
{"t":"2020-11-06T21:30","awd":205,"aws":0.5,"mwd":186,"mws":1.1},
{"t":"2020-11-06T21:50","awd":187,"aws":0.43,"mwd":216,"mws":0.8},
{"t":"2020-11-06T22:10","awd":200,"aws":0.42,"mwd":200,"mws":0.58},
{"t":"2020-11-06T22:30","awd":160,"aws":0.33,"mwd":155,"mws":0.7},
{"t":"2020-11-06T22:50","awd":105,"aws":0.45,"mwd":166,"mws":0.8},
{"t":"2020-11-06T23:10","awd":105,"aws":0.31,"mwd":173,"mws":0.58},
{"t":"2020-11-06T23:30","awd":229,"aws":0.4,"mwd":60,"mws":0.5},
{"t":"2020-11-06T23:50","awd":170,"aws":0.6,"mwd":254,"mws":1.0},
{"t":"2020-11-07T00:10","awd":237,"aws":0.78,"mwd":263,"mws":1.3},
{"t":"2020-11-07T00:30","awd":244,"aws":0.72,"mwd":213,"mws":1.42},
{"t":"2020-11-07T00:50","awd":249,"aws":0.6,"mwd":227,"mws":1.0},
{"t":"2020-11-07T01:10","awd":232,"aws":0.89,"mwd":255,"mws":1.2},
{"t":"2020-11-07T01:30","awd":244,"aws":0.6,"mwd":227,"mws":1.42},
{"t":"2020-11-07T01:50","awd":225,"aws":1.07,"mwd":240,"mws":1.28},
{"t":"2020-11-07T02:10","awd":225,"aws":0.72,"mwd":234,"mws":1.0},
{"t":"2020-11-07T02:30","awd":237,"aws":0.78,"mwd":244,"mws":1.2},
{"t":"2020-11-07T02:50","awd":229,"aws":0.82,"mwd":226,"mws":1.42},
{"t":"2020-11-07T03:10","awd":215,"aws":1.12,"mwd":216,"mws":1.2},
{"t":"2020-11-07T03:30","awd":220,"aws":0.9,"mwd":230,"mws":1.0},
{"t":"2020-11-07T03:50","awd":225,"aws":0.99,"mwd":263,"mws":1.42},
{"t":"2020-11-07T04:10","awd":210,"aws":0.99,"mwd":216,"mws":1.2},
{"t":"2020-11-07T04:30","awd":220,"aws":0.6,"mwd":221,"mws":1.42},
{"t":"2020-11-07T04:50","awd":215,"aws":0.82,"mwd":194,"mws":1.0},
{"t":"2020-11-07T05:10","awd":215,"aws":0.68,"mwd":216,"mws":0.9},
{"t":"2020-11-07T05:30","awd":205,"aws":0.82,"mwd":205,"mws":1.2},
{"t":"2020-11-07T05:50","awd":210,"aws":0.75,"mwd":226,"mws":1.0},
{"t":"2020-11-07T06:10","awd":205,"aws":0.6,"mwd":205,"mws":1.2},
{"t":"2020-11-07T06:30","awd":210,"aws":0.73,"mwd":213,"mws":0.9},
{"t":"2020-11-07T06:50","awd":200,"aws":0.82,"mwd":230,"mws":1.3},
{"t":"2020-11-07T07:10","awd":200,"aws":0.9,"mwd":221,"mws":1.0},
{"t":"2020-11-07T07:30","awd":215,"aws":1.05,"mwd":200,"mws":1.2},
{"t":"2020-11-07T07:50","awd":205,"aws":0.77,"mwd":216,"mws":1.42},
{"t":"2020-11-07T08:10","awd":195,"aws":0.99,"mwd":221,"mws":1.28},
{"t":"2020-11-07T08:30","awd":205,"aws":1.12,"mwd":205,"mws":1.42},
{"t":"2020-11-07T08:50","awd":210,"aws":0.82,"mwd":194,"mws":1.6},
{"t":"2020-11-07T09:10","awd":205,"aws":1.12,"mwd":210,"mws":1.6},
{"t":"2020-11-07T09:30","awd":200,"aws":0.99,"mwd":230,"mws":1.9},
{"t":"2020-11-07T09:50","awd":195,"aws":1.05,"mwd":188,"mws":2.2},
{"t":"2020-11-07T10:10","awd":205,"aws":1.66,"mwd":200,"mws":2.8},
{"t":"2020-11-07T10:30","awd":200,"aws":1.84,"mwd":186,"mws":2.9},
{"t":"2020-11-07T10:50","awd":210,"aws":1.73,"mwd":173,"mws":2.6},
{"t":"2020-11-07T11:10","awd":210,"aws":1.76,"mwd":230,"mws":2.8},
{"t":"2020-11-07T11:30","awd":200,"aws":1.98,"mwd":216,"mws":3.3},
{"t":"2020-11-07T11:50","awd":205,"aws":1.84,"mwd":247,"mws":2.9},
{"t":"2020-11-07T12:10","awd":200,"aws":1.84,"mwd":216,"mws":2.9},
{"t":"2020-11-07T12:30","awd":210,"aws":1.66,"mwd":205,"mws":2.8},
{"t":"2020-11-07T12:50","awd":190,"aws":1.59,"mwd":230,"mws":3.0},
{"t":"2020-11-07T13:10","awd":210,"aws":1.54,"mwd":200,"mws":2.22},
{"t":"2020-11-07T13:30","awd":200,"aws":1.42,"mwd":216,"mws":2.9},
{"t":"2020-11-07T13:50","awd":205,"aws":1.29,"mwd":188,"mws":2.32},
{"t":"2020-11-07T14:10","awd":200,"aws":1.15,"mwd":216,"mws":1.9},
{"t":"2020-11-07T14:30","awd":195,"aws":0.94,"mwd":200,"mws":2.0},
{"t":"2020-11-07T14:50","awd":210,"aws":0.9,"mwd":184,"mws":1.7},
{"t":"2020-11-07T15:10","awd":205,"aws":0.94,"mwd":200,"mws":1.5},
{"t":"2020-11-07T15:30","awd":195,"aws":0.72,"mwd":216,"mws":1.2},
{"t":"2020-11-07T15:50","awd":210,"aws":0.65,"mwd":188,"mws":1.0},
{"t":"2020-11-07T16:10","awd":220,"aws":0.9,"mwd":230,"mws":0.9},
{"t":"2020-11-07T16:30","awd":250,"aws":0.55,"mwd":205,"mws":1.2},
{"t":"2020-11-07T16:50","awd":244,"aws":0.58,"mwd":252,"mws":1.0},
{"t":"2020-11-07T17:10","awd":237,"aws":0.68,"mwd":260,"mws":1.1},
{"t":"2020-11-07T17:30","awd":229,"aws":0.45,"mwd":188,"mws":0.8},
{"t":"2020-11-07T17:50","awd":215,"aws":0.72,"mwd":247,"mws":0.9},
{"t":"2020-11-07T18:10","awd":187,"aws":0.6,"mwd":242,"mws":1.0},
{"t":"2020-11-07T18:30","awd":236,"aws":0.38,"mwd":271,"mws":0.7},
{"t":"2020-11-07T18:50","awd":210,"aws":0.45,"mwd":205,"mws":0.8},
{"t":"2020-11-07T19:10","awd":229,"aws":0.38,"mwd":263,"mws":1.0},
{"t":"2020-11-07T19:30","awd":200,"aws":0.52,"mwd":200,"mws":0.58},
{"t":"2020-11-07T19:50","awd":185,"aws":0.28,"mwd":252,"mws":0.7},
{"t":"2020-11-07T20:10","awd":230,"aws":0.45,"mwd":247,"mws":0.9},
{"t":"2020-11-07T20:30","awd":244,"aws":0.38,"mwd":258,"mws":0.5},
{"t":"2020-11-07T20:50","awd":210,"aws":0.52,"mwd":230,"mws":0.8},
{"t":"2020-11-07T21:10","awd":240,"aws":0.52,"mwd":271,"mws":0.9},
{"t":"2020-11-07T21:30","awd":259,"aws":0.31,"mwd":247,"mws":0.58},
{"t":"2020-11-07T21:50","awd":229,"aws":0.42,"mwd":213,"mws":1.0},
{"t":"2020-11-07T22:10","awd":247,"aws":0.45,"mwd":263,"mws":0.8},
{"t":"2020-11-07T22:30","awd":255,"aws":0.6,"mwd":252,"mws":1.0},
{"t":"2020-11-07T22:50","awd":244,"aws":0.7,"mwd":271,"mws":1.2},
{"t":"2020-11-07T23:10","awd":252,"aws":0.83,"mwd":263,"mws":1.1},
{"t":"2020-11-07T23:30","awd":229,"aws":1.04,"mwd":237,"mws":1.3},
{"t":"2020-11-07T23:50","awd":257,"aws":0.77,"mwd":258,"mws":1.0},
{"t":"2020-11-08T00:10","awd":244,"aws":0.68,"mwd":247,"mws":1.1},
{"t":"2020-11-08T00:30","awd":254,"aws":0.65,"mwd":263,"mws":1.0},
{"t":"2020-11-08T00:50","awd":239,"aws":0.9,"mwd":258,"mws":0.8},
{"t":"2020-11-08T01:10","awd":239,"aws":0.77,"mwd":268,"mws":0.9},
{"t":"2020-11-08T01:30","awd":249,"aws":0.85,"mwd":242,"mws":1.2},
{"t":"2020-11-08T01:50","awd":254,"aws":0.58,"mwd":255,"mws":1.1},
{"t":"2020-11-08T02:10","awd":244,"aws":0.72,"mwd":266,"mws":1.0},
{"t":"2020-11-08T02:30","awd":249,"aws":0.5,"mwd":247,"mws":0.9},
{"t":"2020-11-08T02:50","awd":237,"aws":0.65,"mwd":230,"mws":0.8},
{"t":"2020-11-08T03:10","awd":254,"aws":0.72,"mwd":252,"mws":1.0},
{"t":"2020-11-08T03:30","awd":244,"aws":0.58,"mwd":266,"mws":1.2},
{"t":"2020-11-08T03:50","awd":259,"aws":0.82,"mwd":244,"mws":1.1},
{"t":"2020-11-08T04:10","awd":254,"aws":0.75,"mwd":263,"mws":1.0},
{"t":"2020-11-08T04:30","awd":264,"aws":0.5,"mwd":242,"mws":0.9},
{"t":"2020-11-08T04:50","awd":249,"aws":0.45,"mwd":258,"mws":0.7},
{"t":"2020-11-08T05:10","awd":259,"aws":0.38,"mwd":266,"mws":0.9},
{"t":"2020-11-08T05:30","awd":264,"aws":0.55,"mwd":247,"mws":0.7},
{"t":"2020-11-08T05:50","awd":244,"aws":0.3,"mwd":263,"mws":0.8},
{"t":"2020-11-08T06:10","awd":269,"aws":0.3,"mwd":255,"mws":0.7},
{"t":"2020-11-08T06:30","awd":237,"aws":0.52,"mwd":271,"mws":0.8},
{"t":"2020-11-08T06:50","awd":215,"aws":0.6,"mwd":226,"mws":0.58},
{"t":"2020-11-08T07:10","awd":205,"aws":0.65,"mwd":216,"mws":0.8},
{"t":"2020-11-08T07:30","awd":190,"aws":0.82,"mwd":194,"mws":0.9},
{"t":"2020-11-08T07:50","awd":200,"aws":0.72,"mwd":200,"mws":0.58},
{"t":"2020-11-08T08:10","awd":195,"aws":0.65,"mwd":200,"mws":0.7},
{"t":"2020-11-08T08:30","awd":185,"aws":0.72,"mwd":216,"mws":1.0},
{"t":"2020-11-08T08:50","awd":190,"aws":0.77,"mwd":186,"mws":0.8},
{"t":"2020-11-08T09:10","awd":195,"aws":0.68,"mwd":210,"mws":0.9},
{"t":"2020-11-08T09:30","awd":200,"aws":0.62,"mwd":194,"mws":1.0},
{"t":"2020-11-08T09:50","awd":175,"aws":0.85,"mwd":227,"mws":1.2},
{"t":"2020-11-08T10:10","awd":195,"aws":0.82,"mwd":194,"mws":1.1},
{"t":"2020-11-08T10:30","awd":182,"aws":0.72,"mwd":216,"mws":1.3},
{"t":"2020-11-08T10:50","awd":200,"aws":1.2,"mwd":200,"mws":1.42},
{"t":"2020-11-08T11:10","awd":227,"aws":0.85,"mwd":258,"mws":1.7},
{"t":"2020-11-08T11:30","awd":244,"aws":1.2,"mwd":230,"mws":2.0},
{"t":"2020-11-08T11:50","awd":239,"aws":0.75,"mwd":266,"mws":1.5},
{"t":"2020-11-08T12:10","awd":252,"aws":1.25,"mwd":200,"mws":1.9},
{"t":"2020-11-08T12:30","awd":215,"aws":0.9,"mwd":242,"mws":1.6},
{"t":"2020-11-08T12:50","awd":244,"aws":0.82,"mwd":216,"mws":2.0},
{"t":"2020-11-08T13:10","awd":230,"aws":0.85,"mwd":194,"mws":1.8},
{"t":"2020-11-08T13:30","awd":205,"aws":0.72,"mwd":210,"mws":1.42},
{"t":"2020-11-08T13:50","awd":200,"aws":0.62,"mwd":200,"mws":1.28},
{"t":"2020-11-08T14:10","awd":185,"aws":0.58,"mwd":186,"mws":1.0},
{"t":"2020-11-08T14:30","awd":160,"aws":0.38,"mwd":173,"mws":0.8},
{"t":"2020-11-08T14:50","awd":130,"aws":0.31,"mwd":168,"mws":0.7},
{"t":"2020-11-08T15:10","awd":130,"aws":0.31,"mwd":176,"mws":0.58},
{"t":"2020-11-08T15:30","awd":110,"aws":0.28,"mwd":166,"mws":0.45},
{"t":"2020-11-08T15:50","awd":150,"aws":0.2,"mwd":22,"mws":0.34},
{"t":"2020-11-08T16:10","awd":110,"aws":0.22,"mwd":179,"mws":0.31},
{"t":"2020-11-08T16:30","awd":150,"aws":0.3,"mwd":160,"mws":0.45},
{"t":"2020-11-08T16:50","awd":30,"aws":0.25,"mwd":173,"mws":0.34},
{"t":"2020-11-08T17:10","awd":140,"aws":0.2,"mwd":166,"mws":0.45},
{"t":"2020-11-08T17:30","awd":170,"aws":0.31,"mwd":142,"mws":0.31},
{"t":"2020-11-08T17:50","awd":110,"aws":0.28,"mwd":188,"mws":0.5},
{"t":"2020-11-08T18:10","awd":170,"aws":0.3,"mwd":160,"mws":0.45},
{"t":"2020-11-08T18:30","awd":147,"aws":0.22,"mwd":188,"mws":0.34},
{"t":"2020-11-08T18:50","awd":185,"aws":0.38,"mwd":173,"mws":0.5},
{"t":"2020-11-08T19:10","awd":175,"aws":0.35,"mwd":176,"mws":0.41},
{"t":"2020-11-08T19:30","awd":130,"aws":0.28,"mwd":152,"mws":0.58},
{"t":"2020-11-08T19:50","awd":160,"aws":0.45,"mwd":184,"mws":0.7},
{"t":"2020-11-08T20:10","awd":200,"aws":0.45,"mwd":179,"mws":0.58},
{"t":"2020-11-08T20:30","awd":170,"aws":0.38,"mwd":194,"mws":0.7},
{"t":"2020-11-08T20:50","awd":185,"aws":0.52,"mwd":188,"mws":0.45},
{"t":"2020-11-08T21:10","awd":195,"aws":0.62,"mwd":200,"mws":0.7},
{"t":"2020-11-08T21:30","awd":215,"aws":0.45,"mwd":188,"mws":0.9},
{"t":"2020-11-08T21:50","awd":180,"aws":0.58,"mwd":237,"mws":0.58},
{"t":"2020-11-08T22:10","awd":210,"aws":0.48,"mwd":184,"mws":0.8},
{"t":"2020-11-08T22:30","awd":200,"aws":0.42,"mwd":210,"mws":0.7},
{"t":"2020-11-08T22:50","awd":230,"aws":0.62,"mwd":194,"mws":0.9},
{"t":"2020-11-08T23:10","awd":220,"aws":0.5,"mwd":247,"mws":0.7},
{"t":"2020-11-08T23:30","awd":239,"aws":0.31,"mwd":255,"mws":0.9},
{"t":"2020-11-08T23:50","awd":244,"aws":0.65,"mwd":266,"mws":1.0},
{"t":"2020-11-09T00:10","awd":252,"aws":0.75,"mwd":260,"mws":0.9},
{"t":"2020-11-09T00:30","awd":245,"aws":0.65,"mwd":266,"mws":1.2},
{"t":"2020-11-09T00:50","awd":259,"aws":0.72,"mwd":258,"mws":1.0},
{"t":"2020-11-09T01:10","awd":249,"aws":0.78,"mwd":266,"mws":1.1},
{"t":"2020-11-09T01:30","awd":239,"aws":0.72,"mwd":271,"mws":1.28},
{"t":"2020-11-09T01:50","awd":264,"aws":0.82,"mwd":252,"mws":1.0},
{"t":"2020-11-09T02:10","awd":239,"aws":0.62,"mwd":258,"mws":1.2},
{"t":"2020-11-09T02:30","awd":254,"aws":0.85,"mwd":242,"mws":1.0},
{"t":"2020-11-09T02:50","awd":244,"aws":0.75,"mwd":266,"mws":1.28},
{"t":"2020-11-09T03:10","awd":234,"aws":0.95,"mwd":252,"mws":1.2},
{"t":"2020-11-09T03:30","awd":249,"aws":0.72,"mwd":230,"mws":1.0},
{"t":"2020-11-09T03:50","awd":244,"aws":0.82,"mwd":216,"mws":1.28},
{"t":"2020-11-09T04:10","awd":237,"aws":0.95,"mwd":226,"mws":1.28},
{"t":"2020-11-09T04:30","awd":225,"aws":0.85,"mwd":216,"mws":1.0},
{"t":"2020-11-09T04:50","awd":249,"aws":0.68,"mwd":205,"mws":1.42},
{"t":"2020-11-09T05:10","awd":234,"aws":1.1,"mwd":210,"mws":1.1},
{"t":"2020-11-09T05:30","awd":244,"aws":0.72,"mwd":221,"mws":1.28},
{"t":"2020-11-09T05:50","awd":215,"aws":0.89,"mwd":200,"mws":1.0},
{"t":"2020-11-09T06:10","awd":239,"aws":0.95,"mwd":226,"mws":1.42},
{"t":"2020-11-09T06:30","awd":229,"aws":1.19,"mwd":205,"mws":0.9},
{"t":"2020-11-09T06:50","awd":205,"aws":1.04,"mwd":216,"mws":1.2},
{"t":"2020-11-09T07:10","awd":215,"aws":0.85,"mwd":194,"mws":1.1},
{"t":"2020-11-09T07:30","awd":234,"aws":0.99,"mwd":221,"mws":1.28},
{"t":"2020-11-09T07:50","awd":210,"aws":0.68,"mwd":184,"mws":1.0},
{"t":"2020-11-09T08:10","awd":200,"aws":1.1,"mwd":200,"mws":1.2},
{"t":"2020-11-09T08:30","awd":187,"aws":0.82,"mwd":210,"mws":0.9},
{"t":"2020-11-09T08:50","awd":215,"aws":0.78,"mwd":188,"mws":1.28},
{"t":"2020-11-09T09:10","awd":210,"aws":0.72,"mwd":203,"mws":1.2},
{"t":"2020-11-09T09:30","awd":175,"aws":0.65,"mwd":188,"mws":1.0},
{"t":"2020-11-09T09:50","awd":190,"aws":0.58,"mwd":194,"mws":0.9},
{"t":"2020-11-09T10:10","awd":175,"aws":0.55,"mwd":184,"mws":0.9},
{"t":"2020-11-09T10:30","awd":229,"aws":0.42,"mwd":181,"mws":0.8},
{"t":"2020-11-09T10:50","awd":200,"aws":0.78,"mwd":157,"mws":1.1},
{"t":"2020-11-09T11:10","awd":225,"aws":0.5,"mwd":210,"mws":1.0},
{"t":"2020-11-09T11:30","awd":175,"aws":0.62,"mwd":293,"mws":0.8},
{"t":"2020-11-09T11:50","awd":205,"aws":0.97,"mwd":194,"mws":1.28},
{"t":"2020-11-09T12:10","awd":244,"aws":0.83,"mwd":274,"mws":1.6},
{"t":"2020-11-09T12:30","awd":220,"aws":1.0,"mwd":216,"mws":1.9},
{"t":"2020-11-09T12:50","awd":205,"aws":0.8,"mwd":242,"mws":1.8},
{"t":"2020-11-09T13:10","awd":215,"aws":0.95,"mwd":230,"mws":1.7},
{"t":"2020-11-09T13:30","awd":230,"aws":0.78,"mwd":205,"mws":1.6},
{"t":"2020-11-09T13:50","awd":200,"aws":1.12,"mwd":188,"mws":1.9},
{"t":"2020-11-09T14:10","awd":220,"aws":0.85,"mwd":186,"mws":1.5},
{"t":"2020-11-09T14:30","awd":210,"aws":0.72,"mwd":210,"mws":1.28},
{"t":"2020-11-09T14:50","awd":205,"aws":0.8,"mwd":194,"mws":1.5},
{"t":"2020-11-09T15:10","awd":205,"aws":0.62,"mwd":188,"mws":1.28},
{"t":"2020-11-09T15:30","awd":187,"aws":0.58,"mwd":184,"mws":1.0},
{"t":"2020-11-09T15:50","awd":175,"aws":0.5,"mwd":194,"mws":0.9},
{"t":"2020-11-09T16:10","awd":162,"aws":0.42,"mwd":176,"mws":0.8},
{"t":"2020-11-09T16:30","awd":190,"aws":0.33,"mwd":188,"mws":0.5},
{"t":"2020-11-09T16:50","awd":140,"aws":0.3,"mwd":173,"mws":0.7},
{"t":"2020-11-09T17:10","awd":120,"aws":0.25,"mwd":188,"mws":0.45},
{"t":"2020-11-09T17:30","awd":63,"aws":0.28,"mwd":166,"mws":0.38},
{"t":"2020-11-09T17:50","awd":100,"aws":0.2,"mwd":40,"mws":0.31},
{"t":"2020-11-09T18:10","awd":85,"aws":0.23,"mwd":173,"mws":0.5},
{"t":"2020-11-09T18:30","awd":60,"aws":0.2,"mwd":184,"mws":0.31},
{"t":"2020-11-09T18:50","awd":105,"aws":0.28,"mwd":160,"mws":0.45},
{"t":"2020-11-09T19:10","awd":130,"aws":0.21,"mwd":155,"mws":0.38},
{"t":"2020-11-09T19:30","awd":105,"aws":0.31,"mwd":176,"mws":0.5},
{"t":"2020-11-09T19:50","awd":155,"aws":0.25,"mwd":166,"mws":0.41},
{"t":"2020-11-09T20:10","awd":140,"aws":0.31,"mwd":173,"mws":0.5},
{"t":"2020-11-09T20:30","awd":175,"aws":0.23,"mwd":181,"mws":0.45},
{"t":"2020-11-09T20:50","awd":125,"aws":0.28,"mwd":63,"mws":0.31},
{"t":"2020-11-09T21:10","awd":195,"aws":0.33,"mwd":176,"mws":0.58},
{"t":"2020-11-09T21:30","awd":200,"aws":0.3,"mwd":184,"mws":0.45},
{"t":"2020-11-09T21:50","awd":170,"aws":0.42,"mwd":168,"mws":0.5},
{"t":"2020-11-09T22:10","awd":210,"aws":0.31,"mwd":194,"mws":0.5},
{"t":"2020-11-09T22:30","awd":230,"aws":0.42,"mwd":186,"mws":0.41},
{"t":"2020-11-09T22:50","awd":244,"aws":0.28,"mwd":203,"mws":0.58},
{"t":"2020-11-09T23:10","awd":239,"aws":0.38,"mwd":216,"mws":0.6},
{"t":"2020-11-09T23:30","awd":257,"aws":0.5,"mwd":230,"mws":0.8},
{"t":"2020-11-09T23:50","awd":232,"aws":0.62,"mwd":252,"mws":0.9},
{"t":"2020-11-10T00:10","awd":254,"aws":0.72,"mwd":260,"mws":1.0},
{"t":"2020-11-10T00:30","awd":249,"aws":0.6,"mwd":247,"mws":0.9},
{"t":"2020-11-10T00:50","awd":239,"aws":0.85,"mwd":263,"mws":1.2},
{"t":"2020-11-10T01:10","awd":249,"aws":0.82,"mwd":271,"mws":1.1},
{"t":"2020-11-10T01:30","awd":259,"aws":0.55,"mwd":237,"mws":0.9},
{"t":"2020-11-10T01:50","awd":264,"aws":0.68,"mwd":252,"mws":1.0},
{"t":"2020-11-10T02:10","awd":264,"aws":0.6,"mwd":216,"mws":0.8},
{"t":"2020-11-10T02:30","awd":244,"aws":0.72,"mwd":242,"mws":1.0},
{"t":"2020-11-10T02:50","awd":254,"aws":0.48,"mwd":230,"mws":1.2},
{"t":"2020-11-10T03:10","awd":249,"aws":0.75,"mwd":258,"mws":1.0},
{"t":"2020-11-10T03:30","awd":259,"aws":0.65,"mwd":230,"mws":1.2},
{"t":"2020-11-10T03:50","awd":254,"aws":0.82,"mwd":200,"mws":0.9},
{"t":"2020-11-10T04:10","awd":254,"aws":0.72,"mwd":247,"mws":1.2},
{"t":"2020-11-10T04:30","awd":259,"aws":0.78,"mwd":258,"mws":1.0},
{"t":"2020-11-10T04:50","awd":244,"aws":0.57,"mwd":226,"mws":1.3},
{"t":"2020-11-10T05:10","awd":244,"aws":0.75,"mwd":242,"mws":1.1},
{"t":"2020-11-10T05:30","awd":254,"aws":0.6,"mwd":210,"mws":1.28},
{"t":"2020-11-10T05:50","awd":264,"aws":0.9,"mwd":268,"mws":1.0},
{"t":"2020-11-10T06:10","awd":259,"aws":0.7,"mwd":247,"mws":1.2},
{"t":"2020-11-10T06:30","awd":249,"aws":0.78,"mwd":221,"mws":1.0},
{"t":"2020-11-10T06:50","awd":254,"aws":0.99,"mwd":230,"mws":1.3},
{"t":"2020-11-10T07:10","awd":244,"aws":0.95,"mwd":252,"mws":1.42},
{"t":"2020-11-10T07:30","awd":254,"aws":0.72,"mwd":226,"mws":1.0},
{"t":"2020-11-10T07:50","awd":234,"aws":1.04,"mwd":200,"mws":1.3},
{"t":"2020-11-10T08:10","awd":249,"aws":0.95,"mwd":210,"mws":1.28},
{"t":"2020-11-10T08:30","awd":239,"aws":0.65,"mwd":194,"mws":1.5},
{"t":"2020-11-10T08:50","awd":210,"aws":0.72,"mwd":221,"mws":1.2},
{"t":"2020-11-10T09:10","awd":205,"aws":0.65,"mwd":194,"mws":1.2},
{"t":"2020-11-10T09:30","awd":175,"aws":0.52,"mwd":186,"mws":1.0},
{"t":"2020-11-10T09:50","awd":160,"aws":0.72,"mwd":173,"mws":1.3},
{"t":"2020-11-10T10:10","awd":150,"aws":0.68,"mwd":200,"mws":1.3},
{"t":"2020-11-10T10:30","awd":175,"aws":0.75,"mwd":205,"mws":1.6},
{"t":"2020-11-10T10:50","awd":229,"aws":0.95,"mwd":263,"mws":1.2},
{"t":"2020-11-10T11:10","awd":244,"aws":0.9,"mwd":226,"mws":1.5},
{"t":"2020-11-10T11:30","awd":230,"aws":0.85,"mwd":247,"mws":1.2},
{"t":"2020-11-10T11:50","awd":200,"aws":1.04,"mwd":200,"mws":1.7},
{"t":"2020-11-10T12:10","awd":230,"aws":0.95,"mwd":210,"mws":1.28},
{"t":"2020-11-10T12:30","awd":210,"aws":1.2,"mwd":232,"mws":1.6},
{"t":"2020-11-10T12:50","awd":244,"aws":0.7,"mwd":200,"mws":1.5},
{"t":"2020-11-10T13:10","awd":200,"aws":0.9,"mwd":216,"mws":1.8},
{"t":"2020-11-10T13:30","awd":230,"aws":1.0,"mwd":194,"mws":1.5},
{"t":"2020-11-10T13:50","awd":205,"aws":0.85,"mwd":226,"mws":1.6},
{"t":"2020-11-10T14:10","awd":225,"aws":0.78,"mwd":210,"mws":1.6},
{"t":"2020-11-10T14:30","awd":215,"aws":1.22,"mwd":226,"mws":1.8},
{"t":"2020-11-10T14:50","awd":180,"aws":0.6,"mwd":180,"mws":2.0},
{"t":"2020-11-10T15:10","awd":210,"aws":1.0,"mwd":200,"mws":1.6},
{"t":"2020-11-10T15:30","awd":215,"aws":0.82,"mwd":216,"mws":1.2},
{"t":"2020-11-10T15:50","awd":190,"aws":0.62,"mwd":184,"mws":1.42},
{"t":"2020-11-10T16:10","awd":185,"aws":0.85,"mwd":216,"mws":1.3},
{"t":"2020-11-10T16:30","awd":205,"aws":0.72,"mwd":197,"mws":1.42},
{"t":"2020-11-10T16:50","awd":190,"aws":0.98,"mwd":230,"mws":1.0},
{"t":"2020-11-10T17:10","awd":222,"aws":0.75,"mwd":210,"mws":1.1},
{"t":"2020-11-10T17:30","awd":175,"aws":0.92,"mwd":232,"mws":1.2},
{"t":"2020-11-10T17:50","awd":200,"aws":0.6,"mwd":180,"mws":0.8},
{"t":"2020-11-10T18:10","awd":197,"aws":0.48,"mwd":184,"mws":0.9},
{"t":"2020-11-10T18:30","awd":150,"aws":0.55,"mwd":205,"mws":0.58},
{"t":"2020-11-10T18:50","awd":210,"aws":0.62,"mwd":200,"mws":1.0},
{"t":"2020-11-10T19:10","awd":210,"aws":0.42,"mwd":194,"mws":0.8},
{"t":"2020-11-10T19:30","awd":239,"aws":0.3,"mwd":226,"mws":0.58},
{"t":"2020-11-10T19:50","awd":150,"aws":1.36,"mwd":263,"mws":1.7},
{"t":"2020-11-10T20:10","awd":244,"aws":1.72,"mwd":252,"mws":2.53},
{"t":"2020-11-10T20:30","awd":227,"aws":1.52,"mwd":230,"mws":2.2},
{"t":"2020-11-10T20:50","awd":239,"aws":1.36,"mwd":271,"mws":2.6},
{"t":"2020-11-10T21:10","awd":239,"aws":1.46,"mwd":252,"mws":2.0},
{"t":"2020-11-10T21:30","awd":244,"aws":1.7,"mwd":282,"mws":2.22},
{"t":"2020-11-10T21:50","awd":229,"aws":1.69,"mwd":230,"mws":2.53},
{"t":"2020-11-10T22:10","awd":244,"aws":1.42,"mwd":263,"mws":2.1},
{"t":"2020-11-10T22:30","awd":254,"aws":1.22,"mwd":226,"mws":2.6},
{"t":"2020-11-10T22:50","awd":239,"aws":1.36,"mwd":271,"mws":1.9},
{"t":"2020-11-10T23:10","awd":237,"aws":1.17,"mwd":216,"mws":1.7},
{"t":"2020-11-10T23:30","awd":232,"aws":1.3,"mwd":263,"mws":2.0},
{"t":"2020-11-10T23:50","awd":225,"aws":1.12,"mwd":252,"mws":1.8}
  ]},
  "concat": [
    {
      "width": 2390, "height": 532,
      "mark": {"type": "point", "filled": true, "size": 210, "opacity": 1, "strokeWidth": 0},
      "encoding": {
        "x": {"field": "t", "type": "temporal",
          "scale": {"domain": [{"year": 2020, "month": 11, "date": 3, "hours": 15, "minutes": 36}, {"year": 2020, "month": 11, "date": 11, "hours": 8, "minutes": 14}]},
          "axis": {"title": null, "labels": false, "ticks": false,
            "values": [{"year":2020,"month":11,"date":4},{"year":2020,"month":11,"date":5},{"year":2020,"month":11,"date":6},{"year":2020,"month":11,"date":7},{"year":2020,"month":11,"date":8},{"year":2020,"month":11,"date":9},{"year":2020,"month":11,"date":10},{"year":2020,"month":11,"date":11}],
            "gridWidth": {"condition": {"test": "date(datum.value) % 2 == 0", "value": 2}, "value": 4}}},
        "y": {"field": "awd", "type": "quantitative",
          "scale": {"domain": [-16.8, 352.8], "nice": false, "zero": false},
          "axis": {"title": null, "values": [0, 50, 100, 150, 200, 250, 300], "format": "d",
            "labelExpr": "datum.value % 100 == 0 ? datum.label : ''",
            "tickOpacity": {"condition": {"test": "datum.value % 100 != 0", "value": 0}, "value": 1},
            "gridWidth": {"condition": {"test": "datum.value % 100 != 0", "value": 2}, "value": 4}}},
        "color": {"datum": "AveWindDir", "type": "nominal",
          "scale": {"domain": ["AveWindDir", "AveWindSp", "MaxWindDir", "MaxWindSp"], "range": ["#000000", "#999999", "#997700", "#FFBF00"]},
          "legend": {"title": "variable"}}
      }
    },
    {
      "width": 72, "height": 532,
      "view": {"fill": "#D9D9D9", "stroke": "#333333", "strokeWidth": 2.7},
      "data": {"values": [{"variable": "AveWindDir"}]},
      "mark": {"type": "text", "angle": 90, "fontSize": 37, "color": "#1A1A1A"},
      "encoding": {"text": {"field": "variable"}}
    },
    {
      "width": 2390, "height": 532,
      "mark": {"type": "point", "filled": true, "size": 210, "opacity": 1, "strokeWidth": 0},
      "encoding": {
        "x": {"field": "t", "type": "temporal",
          "scale": {"domain": [{"year": 2020, "month": 11, "date": 3, "hours": 15, "minutes": 36}, {"year": 2020, "month": 11, "date": 11, "hours": 8, "minutes": 14}]},
          "axis": {"title": null, "labels": false, "ticks": false,
            "values": [{"year":2020,"month":11,"date":4},{"year":2020,"month":11,"date":5},{"year":2020,"month":11,"date":6},{"year":2020,"month":11,"date":7},{"year":2020,"month":11,"date":8},{"year":2020,"month":11,"date":9},{"year":2020,"month":11,"date":10},{"year":2020,"month":11,"date":11}],
            "gridWidth": {"condition": {"test": "date(datum.value) % 2 == 0", "value": 2}, "value": 4}}},
        "y": {"field": "aws", "type": "quantitative",
          "scale": {"domain": [0, 2.5], "nice": false, "zero": false},
          "axis": {"title": null, "values": [0, 0.25, 0.5, 0.75, 1, 1.25, 1.5, 1.75, 2, 2.25, 2.5], "format": ".1f",
            "labelExpr": "abs(datum.value * 2 - round(datum.value * 2)) < 0.01 ? datum.label : ''",
            "tickOpacity": {"condition": {"test": "abs(datum.value * 2 - round(datum.value * 2)) > 0.01", "value": 0}, "value": 1},
            "gridWidth": {"condition": {"test": "abs(datum.value * 2 - round(datum.value * 2)) > 0.01", "value": 2}, "value": 4}}},
        "color": {"datum": "AveWindSp", "type": "nominal",
          "scale": {"domain": ["AveWindDir", "AveWindSp", "MaxWindDir", "MaxWindSp"], "range": ["#000000", "#999999", "#997700", "#FFBF00"]},
          "legend": {"title": "variable"}}
      }
    },
    {
      "width": 72, "height": 532,
      "view": {"fill": "#D9D9D9", "stroke": "#333333", "strokeWidth": 2.7},
      "data": {"values": [{"variable": "AveWindSp"}]},
      "mark": {"type": "text", "angle": 90, "fontSize": 37, "color": "#1A1A1A"},
      "encoding": {"text": {"field": "variable"}}
    },
    {
      "width": 2390, "height": 532,
      "mark": {"type": "point", "filled": true, "size": 210, "opacity": 1, "strokeWidth": 0},
      "encoding": {
        "x": {"field": "t", "type": "temporal",
          "scale": {"domain": [{"year": 2020, "month": 11, "date": 3, "hours": 15, "minutes": 36}, {"year": 2020, "month": 11, "date": 11, "hours": 8, "minutes": 14}]},
          "axis": {"title": null, "labels": false, "ticks": false,
            "values": [{"year":2020,"month":11,"date":4},{"year":2020,"month":11,"date":5},{"year":2020,"month":11,"date":6},{"year":2020,"month":11,"date":7},{"year":2020,"month":11,"date":8},{"year":2020,"month":11,"date":9},{"year":2020,"month":11,"date":10},{"year":2020,"month":11,"date":11}],
            "gridWidth": {"condition": {"test": "date(datum.value) % 2 == 0", "value": 2}, "value": 4}}},
        "y": {"field": "mwd", "type": "quantitative",
          "scale": {"domain": [-17.9, 375.5], "nice": false, "zero": false},
          "axis": {"title": null, "values": [0, 50, 100, 150, 200, 250, 300, 350], "format": "d",
            "labelExpr": "datum.value % 100 == 0 ? datum.label : ''",
            "tickOpacity": {"condition": {"test": "datum.value % 100 != 0", "value": 0}, "value": 1},
            "gridWidth": {"condition": {"test": "datum.value % 100 != 0", "value": 2}, "value": 4}}},
        "color": {"datum": "MaxWindDir", "type": "nominal",
          "scale": {"domain": ["AveWindDir", "AveWindSp", "MaxWindDir", "MaxWindSp"], "range": ["#000000", "#999999", "#997700", "#FFBF00"]},
          "legend": {"title": "variable"}}
      }
    },
    {
      "width": 72, "height": 532,
      "view": {"fill": "#D9D9D9", "stroke": "#333333", "strokeWidth": 2.7},
      "data": {"values": [{"variable": "MaxWindDir"}]},
      "mark": {"type": "text", "angle": 90, "fontSize": 37, "color": "#1A1A1A"},
      "encoding": {"text": {"field": "variable"}}
    },
    {
      "width": 2390, "height": 532,
      "mark": {"type": "point", "filled": true, "size": 210, "opacity": 1, "strokeWidth": 0},
      "encoding": {
        "x": {"field": "t", "type": "temporal",
          "scale": {"domain": [{"year": 2020, "month": 11, "date": 3, "hours": 15, "minutes": 36}, {"year": 2020, "month": 11, "date": 11, "hours": 8, "minutes": 14}]},
          "axis": {"title": null, "format": "%b %d", "labelPadding": 5,
            "values": [{"year":2020,"month":11,"date":4},{"year":2020,"month":11,"date":5},{"year":2020,"month":11,"date":6},{"year":2020,"month":11,"date":7},{"year":2020,"month":11,"date":8},{"year":2020,"month":11,"date":9},{"year":2020,"month":11,"date":10},{"year":2020,"month":11,"date":11}],
            "labelExpr": "date(datum.value) % 2 == 1 ? datum.label : ''",
            "tickOpacity": {"condition": {"test": "date(datum.value) % 2 == 0", "value": 0}, "value": 1},
            "gridWidth": {"condition": {"test": "date(datum.value) % 2 == 0", "value": 2}, "value": 4}}},
        "y": {"field": "mws", "type": "quantitative",
          "scale": {"domain": [-0.035, 5.135], "nice": false, "zero": false},
          "axis": {"title": null, "values": [0, 0.5, 1, 1.5, 2, 2.5, 3, 3.5, 4, 4.5, 5], "format": "d",
            "labelExpr": "abs(datum.value - round(datum.value)) < 0.01 ? datum.label : ''",
            "tickOpacity": {"condition": {"test": "abs(datum.value - round(datum.value)) > 0.01", "value": 0}, "value": 1},
            "gridWidth": {"condition": {"test": "abs(datum.value - round(datum.value)) > 0.01", "value": 2}, "value": 4}}},
        "color": {"datum": "MaxWindSp", "type": "nominal",
          "scale": {"domain": ["AveWindDir", "AveWindSp", "MaxWindDir", "MaxWindSp"], "range": ["#000000", "#999999", "#997700", "#FFBF00"]},
          "legend": {"title": "variable"}}
      }
    },
    {
      "width": 72, "height": 532,
      "view": {"fill": "#D9D9D9", "stroke": "#333333", "strokeWidth": 2.7},
      "data": {"values": [{"variable": "MaxWindSp"}]},
      "mark": {"type": "text", "angle": 90, "fontSize": 37, "color": "#1A1A1A"},
      "encoding": {"text": {"field": "variable"}}
    }
  ],
  "columns": 2,
  "align": "each",
  "bounds": "flush",
  "spacing": {"row": 24, "column": 0},
  "config": {
    "font": "Liberation Sans",
    "view": {"stroke": "#333333", "strokeWidth": 2.7},
    "axis": {"domain": false, "gridColor": "#EBEBEB", "labelColor": "#4D4D4D", "labelFont": "Liberation Sans", "labelFontSize": 50, "tickColor": "#333333", "tickWidth": 2.7, "tickSize": 13, "labelPadding": 11, "labelFlush": false, "labelOverlap": false},
    "legend": {"orient": "none", "legendX": 2532, "legendY": 925, "padding": 0, "titleFont": "Liberation Sans", "titleFontSize": 45, "titleFontWeight": "normal", "titleColor": "black", "titlePadding": 38, "titleLimit": 500, "labelFont": "Liberation Sans", "labelFontSize": 37, "labelColor": "black", "labelLimit": 500, "symbolType": "circle", "symbolSize": 200, "symbolStrokeWidth": 0, "symbolOffset": 14, "labelOffset": 41, "rowPadding": 34}
  }
}
